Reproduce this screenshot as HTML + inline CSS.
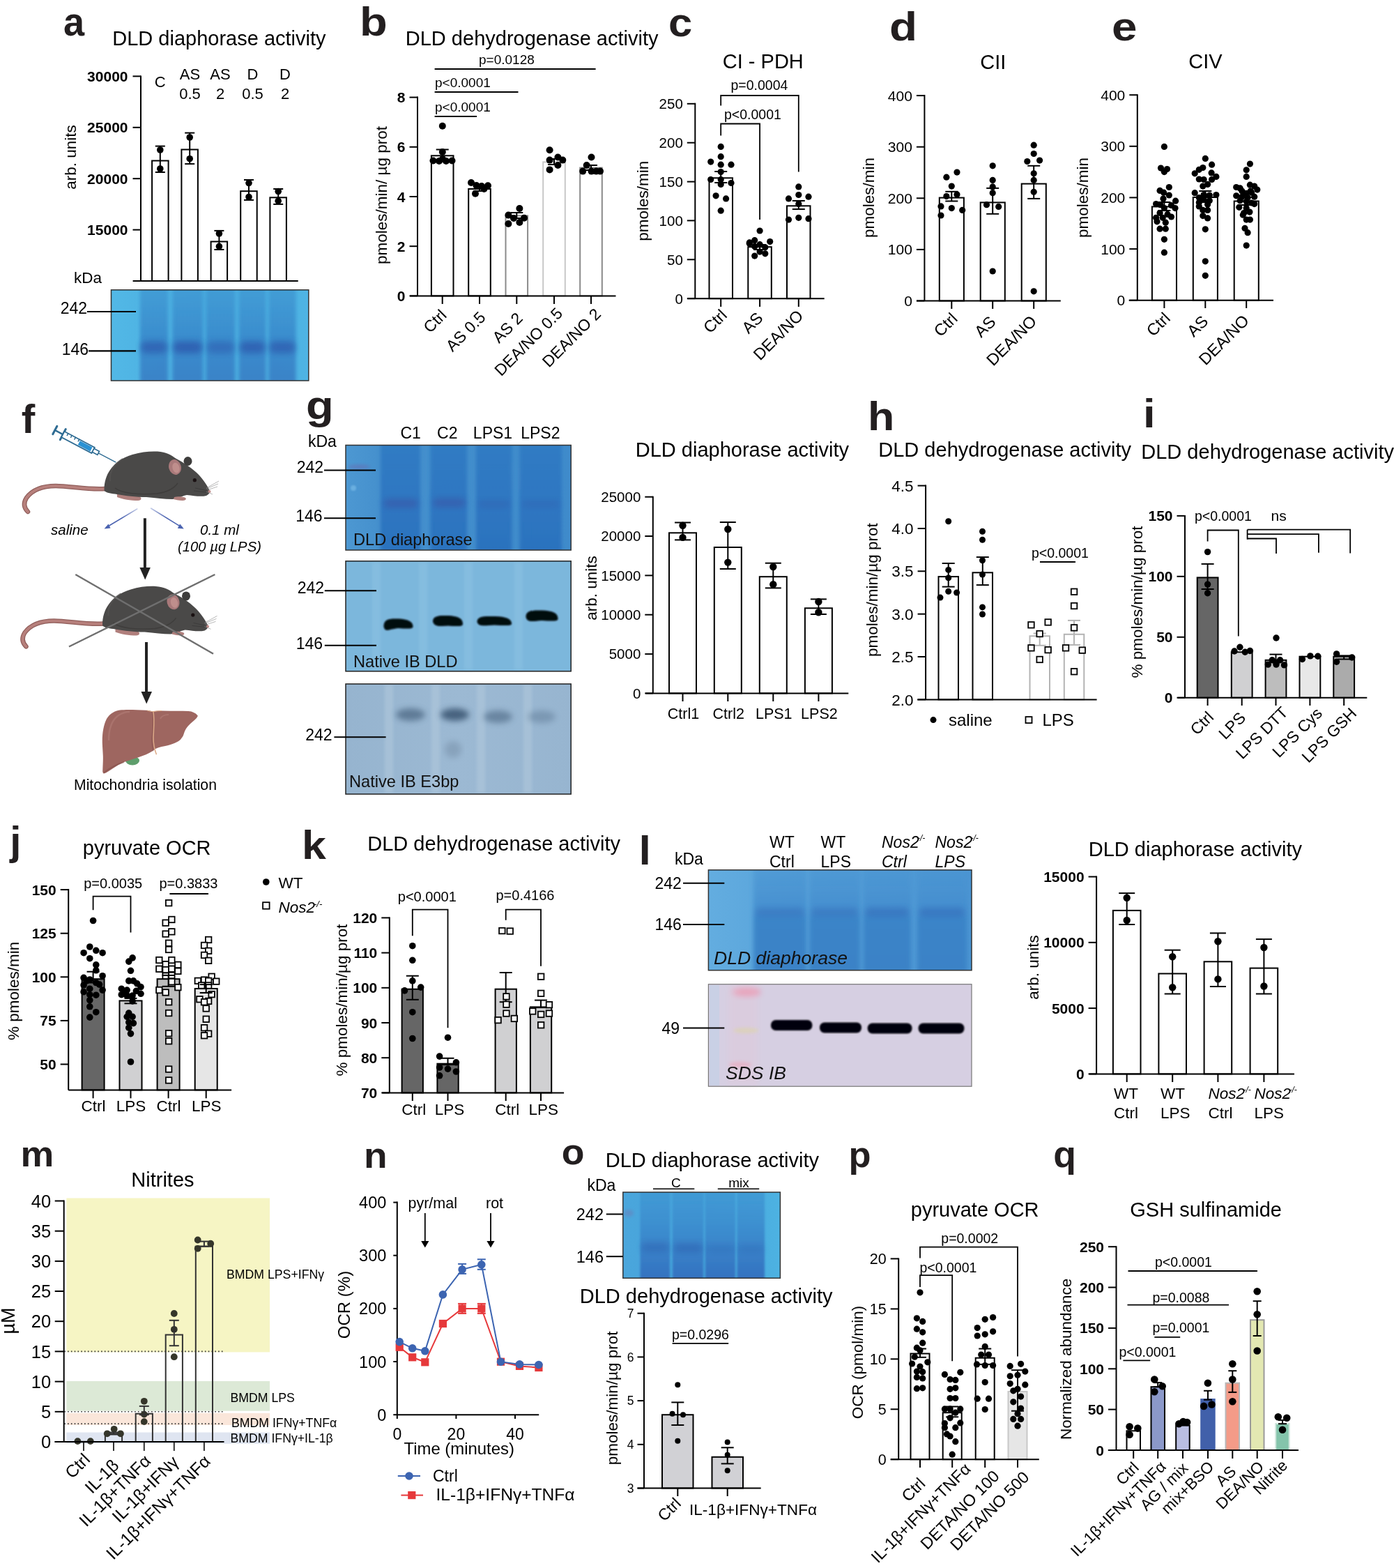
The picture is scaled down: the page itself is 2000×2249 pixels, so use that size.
<!DOCTYPE html>
<html><head><meta charset="utf-8"><title>Figure</title>
<style>
html,body{margin:0;padding:0;background:#fff;}
svg{display:block;}
text{font-family:"Liberation Sans", Arial, Helvetica, sans-serif;}
</style></head>
<body>
<svg width="2000" height="2249" viewBox="0 0 2000 2249">
<defs>
<filter id="b2" x="-20%" y="-50%" width="140%" height="200%"><feGaussianBlur stdDeviation="2"/></filter>
<filter id="b4" x="-20%" y="-50%" width="140%" height="200%"><feGaussianBlur stdDeviation="4"/></filter>
<filter id="b6" x="-30%" y="-80%" width="160%" height="260%"><feGaussianBlur stdDeviation="6"/></filter>
<filter id="b1"><feGaussianBlur stdDeviation="1"/></filter>
</defs>
<rect x="0" y="0" width="2000" height="2249" fill="#fff"/>
<text x="0" y="0" font-size="57" font-weight="bold" fill="#231f20" transform="translate(91.0 51.0) scale(0.95 1)">a</text>
<text x="161.3" y="64.6" font-size="29">DLD diaphorase activity</text>
<line x1="202.0" y1="108.4" x2="202.0" y2="403.0" stroke="#000" stroke-width="2" />
<line x1="190.5" y1="109.4" x2="202.0" y2="109.4" stroke="#000" stroke-width="2" />
<text x="183.5" y="116.9" font-size="21" text-anchor="end" font-weight="bold">30000</text>
<line x1="190.5" y1="182.8" x2="202.0" y2="182.8" stroke="#000" stroke-width="2" />
<text x="183.5" y="190.3" font-size="21" text-anchor="end" font-weight="bold">25000</text>
<line x1="190.5" y1="256.2" x2="202.0" y2="256.2" stroke="#000" stroke-width="2" />
<text x="183.5" y="263.7" font-size="21" text-anchor="end" font-weight="bold">20000</text>
<line x1="190.5" y1="329.6" x2="202.0" y2="329.6" stroke="#000" stroke-width="2" />
<text x="183.5" y="337.1" font-size="21" text-anchor="end" font-weight="bold">15000</text>
<text x="109.4" y="225.5" font-size="22.5" text-anchor="middle" transform="rotate(-90 109.4 225.5)">arb. units</text>
<rect x="218.1" y="230.5" width="23.5" height="172.5" fill="#fff" stroke="#000" stroke-width="2" />
<line x1="229.8" y1="209.6" x2="229.8" y2="247.0" stroke="#000" stroke-width="2" />
<line x1="222.8" y1="209.6" x2="236.8" y2="209.6" stroke="#000" stroke-width="2" />
<line x1="222.8" y1="247.0" x2="236.8" y2="247.0" stroke="#000" stroke-width="2" />
<circle cx="229.8" cy="215.0" r="4.8" fill="#000" />
<circle cx="229.8" cy="242.0" r="4.8" fill="#000" />
<rect x="260.4" y="214.5" width="23.5" height="188.5" fill="#fff" stroke="#000" stroke-width="2" />
<line x1="272.2" y1="190.6" x2="272.2" y2="235.1" stroke="#000" stroke-width="2" />
<line x1="265.2" y1="190.6" x2="279.2" y2="190.6" stroke="#000" stroke-width="2" />
<line x1="265.2" y1="235.1" x2="279.2" y2="235.1" stroke="#000" stroke-width="2" />
<circle cx="272.2" cy="197.0" r="4.8" fill="#000" />
<circle cx="272.2" cy="227.7" r="4.8" fill="#000" />
<rect x="302.6" y="346.5" width="23.5" height="56.5" fill="#fff" stroke="#000" stroke-width="2" />
<line x1="314.4" y1="330.9" x2="314.4" y2="358.0" stroke="#000" stroke-width="2" />
<line x1="307.4" y1="330.9" x2="321.4" y2="330.9" stroke="#000" stroke-width="2" />
<line x1="307.4" y1="358.0" x2="321.4" y2="358.0" stroke="#000" stroke-width="2" />
<circle cx="314.4" cy="335.0" r="4.8" fill="#000" />
<circle cx="314.4" cy="353.4" r="4.8" fill="#000" />
<rect x="345.2" y="274.2" width="23.5" height="128.8" fill="#fff" stroke="#000" stroke-width="2" />
<line x1="357.0" y1="258.0" x2="357.0" y2="286.9" stroke="#000" stroke-width="2" />
<line x1="350.0" y1="258.0" x2="364.0" y2="258.0" stroke="#000" stroke-width="2" />
<line x1="350.0" y1="286.9" x2="364.0" y2="286.9" stroke="#000" stroke-width="2" />
<circle cx="357.0" cy="262.6" r="4.8" fill="#000" />
<circle cx="357.0" cy="282.5" r="4.8" fill="#000" />
<rect x="387.4" y="283.3" width="23.5" height="119.7" fill="#fff" stroke="#000" stroke-width="2" />
<line x1="399.2" y1="271.0" x2="399.2" y2="292.9" stroke="#000" stroke-width="2" />
<line x1="392.2" y1="271.0" x2="406.2" y2="271.0" stroke="#000" stroke-width="2" />
<line x1="392.2" y1="292.9" x2="406.2" y2="292.9" stroke="#000" stroke-width="2" />
<circle cx="399.2" cy="274.5" r="4.8" fill="#000" />
<circle cx="399.2" cy="288.2" r="4.8" fill="#000" />
<text x="229.6" y="125.0" font-size="22" text-anchor="middle">C</text>
<text x="272.5" y="113.6" font-size="22" text-anchor="middle">AS</text>
<text x="272.5" y="141.6" font-size="22" text-anchor="middle">0.5</text>
<text x="316.0" y="113.6" font-size="22" text-anchor="middle">AS</text>
<text x="316.0" y="141.6" font-size="22" text-anchor="middle">2</text>
<text x="362.5" y="113.6" font-size="22" text-anchor="middle">D</text>
<text x="362.5" y="141.6" font-size="22" text-anchor="middle">0.5</text>
<text x="409.0" y="113.6" font-size="22" text-anchor="middle">D</text>
<text x="409.0" y="141.6" font-size="22" text-anchor="middle">2</text>
<text x="106.0" y="405.6" font-size="22.5">kDa</text>
<clipPath id="gelac"><rect x="159.5" y="415.8" width="283.3" height="130.2"/></clipPath>
<linearGradient id="gelal" x1="0" y1="0" x2="0" y2="1"><stop offset="0" stop-color="#3f9ad4" stop-opacity="0.85"/><stop offset="0.55" stop-color="#3a8acc" stop-opacity="0.95"/><stop offset="1" stop-color="#3a80c6" stop-opacity="0.95"/></linearGradient>
<filter id="gelaf" x="-10%" y="-10%" width="120%" height="120%"><feGaussianBlur stdDeviation="2.5"/></filter>
<g clip-path="url(#gelac)">
<linearGradient id="gelab" x1="0" y1="0" x2="1" y2="0"><stop offset="0" stop-color="#52b8e6"/><stop offset="0.5" stop-color="#47aade"/><stop offset="1" stop-color="#4fb4e4"/></linearGradient>
<rect x="159.5" y="415.8" width="283.3" height="130.2" fill="url(#gelab)"/>
<rect x="201" y="411.8" width="40" height="138.2" fill="url(#gelal)" filter="url(#gelaf)"/>
<rect x="247.5" y="411.8" width="43.5" height="138.2" fill="url(#gelal)" filter="url(#gelaf)"/>
<rect x="296" y="411.8" width="41" height="138.2" fill="url(#gelal)" filter="url(#gelaf)"/>
<rect x="343" y="411.8" width="38.5" height="138.2" fill="url(#gelal)" filter="url(#gelaf)"/>
<rect x="385.5" y="411.8" width="39.0" height="138.2" fill="url(#gelal)" filter="url(#gelaf)"/>
<rect x="202" y="489.5" width="38" height="17" rx="8" fill="#2d5eb0" opacity="0.8" filter="url(#b4)"/>
<rect x="248.5" y="489.5" width="41.5" height="17" rx="8" fill="#2d5eb0" opacity="0.9" filter="url(#b4)"/>
<rect x="297" y="489.5" width="39" height="17" rx="8" fill="#2d5eb0" opacity="0.6" filter="url(#b4)"/>
<rect x="344" y="489.5" width="36.5" height="17" rx="8" fill="#2d5eb0" opacity="0.85" filter="url(#b4)"/>
<rect x="386.5" y="489.5" width="37.0" height="17" rx="8" fill="#2d5eb0" opacity="0.8" filter="url(#b4)"/>
</g>
<rect x="159.5" y="415.8" width="283.3" height="130.2" fill="none" stroke="#333" stroke-width="1.5"/>
<text x="125.0" y="450.0" font-size="23" text-anchor="end">242</text>
<line x1="125.0" y1="447.0" x2="195.0" y2="447.0" stroke="#000" stroke-width="2.2" />
<text x="127.0" y="509.0" font-size="23" text-anchor="end">146</text>
<line x1="127.0" y1="503.3" x2="195.0" y2="503.3" stroke="#000" stroke-width="2.2" />
<text x="0" y="0" font-size="57" font-weight="bold" fill="#231f20" transform="translate(516.0 51.0) scale(1.14 1)">b</text>
<text x="581.8" y="64.6" font-size="29">DLD dehydrogenase activity</text>
<line x1="599.0" y1="138.6" x2="599.0" y2="424.4" stroke="#000" stroke-width="2" />
<line x1="587.5" y1="424.4" x2="599.0" y2="424.4" stroke="#000" stroke-width="2" />
<text x="581.5" y="431.9" font-size="21" text-anchor="end" font-weight="bold">0</text>
<line x1="587.5" y1="353.2" x2="599.0" y2="353.2" stroke="#000" stroke-width="2" />
<text x="581.5" y="360.7" font-size="21" text-anchor="end" font-weight="bold">2</text>
<line x1="587.5" y1="282.0" x2="599.0" y2="282.0" stroke="#000" stroke-width="2" />
<text x="581.5" y="289.5" font-size="21" text-anchor="end" font-weight="bold">4</text>
<line x1="587.5" y1="210.8" x2="599.0" y2="210.8" stroke="#000" stroke-width="2" />
<text x="581.5" y="218.3" font-size="21" text-anchor="end" font-weight="bold">6</text>
<line x1="587.5" y1="139.6" x2="599.0" y2="139.6" stroke="#000" stroke-width="2" />
<text x="581.5" y="147.1" font-size="21" text-anchor="end" font-weight="bold">8</text>
<text x="555.0" y="280.0" font-size="22.5" text-anchor="middle" transform="rotate(-90 555.0 280.0)">pmoles/min/ µg prot</text>
<rect x="618.9" y="223.3" width="31.6" height="201.1" fill="#fff" stroke="#000" stroke-width="2" />
<rect x="672.2" y="271.0" width="31.6" height="153.4" fill="#fff" stroke="#000" stroke-width="2" />
<rect x="725.5" y="309.4" width="31.6" height="115.0" fill="#fff" stroke="#8a8a8a" stroke-width="2" />
<rect x="779.2" y="232.4" width="31.6" height="192.0" fill="#fff" stroke="#c8c8c8" stroke-width="2" />
<rect x="832.2" y="240.6" width="31.6" height="183.8" fill="#fff" stroke="#8a8a8a" stroke-width="2" />
<line x1="634.7" y1="424.4" x2="634.7" y2="436.0" stroke="#000" stroke-width="2" />
<line x1="688.0" y1="424.4" x2="688.0" y2="436.0" stroke="#000" stroke-width="2" />
<line x1="741.3" y1="424.4" x2="741.3" y2="436.0" stroke="#000" stroke-width="2" />
<line x1="795.0" y1="424.4" x2="795.0" y2="436.0" stroke="#000" stroke-width="2" />
<line x1="848.0" y1="424.4" x2="848.0" y2="436.0" stroke="#000" stroke-width="2" />
<line x1="634.7" y1="214.5" x2="634.7" y2="232.0" stroke="#000" stroke-width="2" />
<line x1="625.7" y1="214.5" x2="643.7" y2="214.5" stroke="#000" stroke-width="2" />
<line x1="625.7" y1="232.0" x2="643.7" y2="232.0" stroke="#000" stroke-width="2" />
<line x1="688.0" y1="268.0" x2="688.0" y2="274.0" stroke="#000" stroke-width="2" />
<line x1="679.0" y1="268.0" x2="697.0" y2="268.0" stroke="#000" stroke-width="2" />
<line x1="679.0" y1="274.0" x2="697.0" y2="274.0" stroke="#000" stroke-width="2" />
<line x1="741.3" y1="305.0" x2="741.3" y2="313.0" stroke="#000" stroke-width="2" />
<line x1="732.3" y1="305.0" x2="750.3" y2="305.0" stroke="#000" stroke-width="2" />
<line x1="732.3" y1="313.0" x2="750.3" y2="313.0" stroke="#000" stroke-width="2" />
<line x1="795.0" y1="228.0" x2="795.0" y2="236.0" stroke="#000" stroke-width="2" />
<line x1="786.0" y1="228.0" x2="804.0" y2="228.0" stroke="#000" stroke-width="2" />
<line x1="786.0" y1="236.0" x2="804.0" y2="236.0" stroke="#000" stroke-width="2" />
<line x1="848.0" y1="237.0" x2="848.0" y2="244.0" stroke="#000" stroke-width="2" />
<line x1="839.0" y1="237.0" x2="857.0" y2="237.0" stroke="#000" stroke-width="2" />
<line x1="839.0" y1="244.0" x2="857.0" y2="244.0" stroke="#000" stroke-width="2" />
<circle cx="634.8" cy="180.7" r="5" fill="#000" />
<circle cx="634.8" cy="218.0" r="5" fill="#000" />
<circle cx="621.5" cy="230.5" r="5" fill="#000" />
<circle cx="630.0" cy="231.0" r="5" fill="#000" />
<circle cx="640.0" cy="231.0" r="5" fill="#000" />
<circle cx="648.5" cy="230.5" r="5" fill="#000" />
<circle cx="635.0" cy="228.0" r="5" fill="#000" />
<circle cx="676.0" cy="262.0" r="5" fill="#000" />
<circle cx="683.5" cy="266.0" r="5" fill="#000" />
<circle cx="691.0" cy="267.0" r="5" fill="#000" />
<circle cx="700.0" cy="266.2" r="5" fill="#000" />
<circle cx="682.0" cy="277.8" r="5" fill="#000" />
<circle cx="694.5" cy="271.0" r="5" fill="#000" />
<circle cx="729.4" cy="308.6" r="5" fill="#000" />
<circle cx="745.4" cy="299.0" r="5" fill="#000" />
<circle cx="752.0" cy="312.7" r="5" fill="#000" />
<circle cx="729.4" cy="321.0" r="5" fill="#000" />
<circle cx="745.4" cy="319.0" r="5" fill="#000" />
<circle cx="737.0" cy="313.0" r="5" fill="#000" />
<circle cx="788.6" cy="215.3" r="5" fill="#000" />
<circle cx="788.6" cy="229.6" r="5" fill="#000" />
<circle cx="800.4" cy="225.5" r="5" fill="#000" />
<circle cx="807.3" cy="229.6" r="5" fill="#000" />
<circle cx="788.6" cy="243.4" r="5" fill="#000" />
<circle cx="800.4" cy="237.0" r="5" fill="#000" />
<circle cx="848.5" cy="225.5" r="5" fill="#000" />
<circle cx="836.2" cy="245.6" r="5" fill="#000" />
<circle cx="841.7" cy="237.0" r="5" fill="#000" />
<circle cx="848.5" cy="245.6" r="5" fill="#000" />
<circle cx="855.4" cy="245.6" r="5" fill="#000" />
<circle cx="861.0" cy="245.6" r="5" fill="#000" />
<text x="687.0" y="92.0" font-size="19">p=0.0128</text>
<line x1="623.6" y1="99.0" x2="854.6" y2="99.0" stroke="#000" stroke-width="1.8" />
<text x="624.0" y="125.0" font-size="19">p&lt;0.0001</text>
<line x1="623.6" y1="132.0" x2="743.5" y2="132.0" stroke="#000" stroke-width="1.8" />
<text x="624.0" y="160.3" font-size="19">p&lt;0.0001</text>
<line x1="623.6" y1="167.0" x2="684.0" y2="167.0" stroke="#000" stroke-width="1.8" />
<text x="642.2" y="453.5" font-size="23" text-anchor="end" transform="rotate(-45 642.2 453.5)">Ctrl</text>
<text x="698.0" y="456.6" font-size="23" text-anchor="end" transform="rotate(-45 698.0 456.6)">AS 0.5</text>
<text x="751.3" y="458.0" font-size="23" text-anchor="end" transform="rotate(-45 751.3 458.0)">AS 2</text>
<text x="808.5" y="451.0" font-size="23" text-anchor="end" transform="rotate(-45 808.5 451.0)">DEA/NO 0.5</text>
<text x="863.5" y="452.0" font-size="23" text-anchor="end" transform="rotate(-45 863.5 452.0)">DEA/NO 2</text>
<text x="0" y="0" font-size="57" font-weight="bold" fill="#231f20" transform="translate(959.0 52.0) scale(1.08 1)">c</text>
<text x="1036.8" y="97.8" font-size="29">CI - PDH</text>
<line x1="997.3" y1="147.8" x2="997.3" y2="428.2" stroke="#000" stroke-width="2" />
<line x1="985.8" y1="428.2" x2="997.3" y2="428.2" stroke="#000" stroke-width="2" />
<text x="979.8" y="435.5" font-size="20.5" text-anchor="end">0</text>
<line x1="985.8" y1="372.3" x2="997.3" y2="372.3" stroke="#000" stroke-width="2" />
<text x="979.8" y="379.7" font-size="20.5" text-anchor="end">50</text>
<line x1="985.8" y1="316.4" x2="997.3" y2="316.4" stroke="#000" stroke-width="2" />
<text x="979.8" y="323.8" font-size="20.5" text-anchor="end">100</text>
<line x1="985.8" y1="260.6" x2="997.3" y2="260.6" stroke="#000" stroke-width="2" />
<text x="979.8" y="267.9" font-size="20.5" text-anchor="end">150</text>
<line x1="985.8" y1="204.7" x2="997.3" y2="204.7" stroke="#000" stroke-width="2" />
<text x="979.8" y="212.0" font-size="20.5" text-anchor="end">200</text>
<line x1="985.8" y1="148.8" x2="997.3" y2="148.8" stroke="#000" stroke-width="2" />
<text x="979.8" y="156.1" font-size="20.5" text-anchor="end">250</text>
<text x="930.0" y="288.3" font-size="22.5" text-anchor="middle" transform="rotate(-90 930.0 288.3)">pmoles/min</text>
<rect x="1017.5" y="255.3" width="33.5" height="172.9" fill="#fff" stroke="#000" stroke-width="2" />
<line x1="1034.2" y1="428.2" x2="1034.2" y2="440.0" stroke="#000" stroke-width="2" />
<rect x="1073.3" y="354.2" width="33.5" height="74.0" fill="#fff" stroke="#000" stroke-width="2" />
<line x1="1090.1" y1="428.2" x2="1090.1" y2="440.0" stroke="#000" stroke-width="2" />
<rect x="1129.0" y="295.3" width="33.5" height="132.9" fill="#fff" stroke="#000" stroke-width="2" />
<line x1="1145.8" y1="428.2" x2="1145.8" y2="440.0" stroke="#000" stroke-width="2" />
<line x1="1034.2" y1="246.0" x2="1034.2" y2="262.0" stroke="#000" stroke-width="2" />
<line x1="1025.2" y1="246.0" x2="1043.2" y2="246.0" stroke="#000" stroke-width="2" />
<line x1="1025.2" y1="262.0" x2="1043.2" y2="262.0" stroke="#000" stroke-width="2" />
<line x1="1090.1" y1="351.0" x2="1090.1" y2="358.0" stroke="#000" stroke-width="2" />
<line x1="1081.1" y1="351.0" x2="1099.1" y2="351.0" stroke="#000" stroke-width="2" />
<line x1="1081.1" y1="358.0" x2="1099.1" y2="358.0" stroke="#000" stroke-width="2" />
<line x1="1145.8" y1="288.0" x2="1145.8" y2="300.0" stroke="#000" stroke-width="2" />
<line x1="1136.8" y1="288.0" x2="1154.8" y2="288.0" stroke="#000" stroke-width="2" />
<line x1="1136.8" y1="300.0" x2="1154.8" y2="300.0" stroke="#000" stroke-width="2" />
<circle cx="1034.2" cy="210.4" r="4.6" fill="#000" />
<circle cx="1034.2" cy="224.7" r="4.6" fill="#000" />
<circle cx="1019.7" cy="232.1" r="4.6" fill="#000" />
<circle cx="1034.2" cy="236.2" r="4.6" fill="#000" />
<circle cx="1049.0" cy="236.2" r="4.6" fill="#000" />
<circle cx="1034.2" cy="246.6" r="4.6" fill="#000" />
<circle cx="1019.7" cy="257.5" r="4.6" fill="#000" />
<circle cx="1034.2" cy="257.5" r="4.6" fill="#000" />
<circle cx="1049.0" cy="262.5" r="4.6" fill="#000" />
<circle cx="1027.1" cy="280.8" r="4.6" fill="#000" />
<circle cx="1041.6" cy="284.9" r="4.6" fill="#000" />
<circle cx="1034.2" cy="302.2" r="4.6" fill="#000" />
<circle cx="1034.2" cy="264.4" r="4.6" fill="#000" />
<circle cx="1090.1" cy="331.0" r="4.6" fill="#000" />
<circle cx="1075.3" cy="347.9" r="4.6" fill="#000" />
<circle cx="1082.7" cy="344.7" r="4.6" fill="#000" />
<circle cx="1090.1" cy="350.7" r="4.6" fill="#000" />
<circle cx="1104.7" cy="346.6" r="4.6" fill="#000" />
<circle cx="1082.7" cy="353.4" r="4.6" fill="#000" />
<circle cx="1097.8" cy="354.8" r="4.6" fill="#000" />
<circle cx="1090.1" cy="361.1" r="4.6" fill="#000" />
<circle cx="1082.7" cy="367.1" r="4.6" fill="#000" />
<circle cx="1097.8" cy="363.8" r="4.6" fill="#000" />
<circle cx="1075.3" cy="349.3" r="4.6" fill="#000" />
<circle cx="1145.8" cy="267.9" r="4.6" fill="#000" />
<circle cx="1131.5" cy="284.9" r="4.6" fill="#000" />
<circle cx="1145.8" cy="279.5" r="4.6" fill="#000" />
<circle cx="1160.0" cy="282.2" r="4.6" fill="#000" />
<circle cx="1145.8" cy="292.6" r="4.6" fill="#000" />
<circle cx="1131.5" cy="315.1" r="4.6" fill="#000" />
<circle cx="1145.8" cy="312.3" r="4.6" fill="#000" />
<circle cx="1160.0" cy="313.7" r="4.6" fill="#000" />
<polyline points="1034.2,194.5 1034.2,177.5 1090.1,177.5 1090.1,315.0" stroke="#000" stroke-width="1.8" fill="none" />
<text x="1039.0" y="171.0" font-size="19.5">p&lt;0.0001</text>
<polyline points="1034.2,151.5 1034.2,137.0 1145.8,137.0 1145.8,246.6" stroke="#000" stroke-width="1.8" fill="none" />
<text x="1048.5" y="128.8" font-size="19.5">p=0.0004</text>
<text x="1044.5" y="453.5" font-size="23.4" text-anchor="end" transform="rotate(-45 1044.5 453.5)">Ctrl</text>
<text x="1096.1" y="457.7" font-size="23.4" text-anchor="end" transform="rotate(-45 1096.1 457.7)">AS</text>
<text x="1153.8" y="454.5" font-size="23.4" text-anchor="end" transform="rotate(-45 1153.8 454.5)">DEA/NO</text>
<text x="0" y="0" font-size="57" font-weight="bold" fill="#231f20" transform="translate(1276.0 57.5) scale(1.15 1)">d</text>
<text x="1406.3" y="98.6" font-size="29">CII</text>
<line x1="1326.4" y1="136.1" x2="1326.4" y2="431.5" stroke="#000" stroke-width="2" />
<line x1="1314.9" y1="431.5" x2="1326.4" y2="431.5" stroke="#000" stroke-width="2" />
<text x="1308.9" y="439.0" font-size="21" text-anchor="end">0</text>
<line x1="1314.9" y1="357.9" x2="1326.4" y2="357.9" stroke="#000" stroke-width="2" />
<text x="1308.9" y="365.4" font-size="21" text-anchor="end">100</text>
<line x1="1314.9" y1="284.3" x2="1326.4" y2="284.3" stroke="#000" stroke-width="2" />
<text x="1308.9" y="291.8" font-size="21" text-anchor="end">200</text>
<line x1="1314.9" y1="210.7" x2="1326.4" y2="210.7" stroke="#000" stroke-width="2" />
<text x="1308.9" y="218.2" font-size="21" text-anchor="end">300</text>
<line x1="1314.9" y1="137.1" x2="1326.4" y2="137.1" stroke="#000" stroke-width="2" />
<text x="1308.9" y="144.6" font-size="21" text-anchor="end">400</text>
<text x="1254.0" y="283.4" font-size="22.5" text-anchor="middle" transform="rotate(-90 1254.0 283.4)">pmoles/min</text>
<rect x="1347.8" y="283.6" width="35.1" height="147.9" fill="#fff" stroke="#000" stroke-width="2" />
<line x1="1365.3" y1="431.5" x2="1365.3" y2="443.0" stroke="#000" stroke-width="2" />
<rect x="1406.7" y="290.4" width="35.1" height="141.1" fill="#fff" stroke="#000" stroke-width="2" />
<line x1="1424.2" y1="431.5" x2="1424.2" y2="443.0" stroke="#000" stroke-width="2" />
<rect x="1465.7" y="263.6" width="35.1" height="167.9" fill="#fff" stroke="#000" stroke-width="2" />
<line x1="1483.2" y1="431.5" x2="1483.2" y2="443.0" stroke="#000" stroke-width="2" />
<line x1="1365.3" y1="274.8" x2="1365.3" y2="288.5" stroke="#000" stroke-width="2" />
<line x1="1356.3" y1="274.8" x2="1374.3" y2="274.8" stroke="#000" stroke-width="2" />
<line x1="1356.3" y1="288.5" x2="1374.3" y2="288.5" stroke="#000" stroke-width="2" />
<line x1="1424.2" y1="269.9" x2="1424.2" y2="306.8" stroke="#000" stroke-width="2" />
<line x1="1415.2" y1="269.9" x2="1433.2" y2="269.9" stroke="#000" stroke-width="2" />
<line x1="1415.2" y1="306.8" x2="1433.2" y2="306.8" stroke="#000" stroke-width="2" />
<line x1="1483.2" y1="237.8" x2="1483.2" y2="284.9" stroke="#000" stroke-width="2" />
<line x1="1474.2" y1="237.8" x2="1492.2" y2="237.8" stroke="#000" stroke-width="2" />
<line x1="1474.2" y1="284.9" x2="1492.2" y2="284.9" stroke="#000" stroke-width="2" />
<circle cx="1357.9" cy="254.2" r="4.6" fill="#000" />
<circle cx="1373.0" cy="247.1" r="4.6" fill="#000" />
<circle cx="1365.3" cy="267.1" r="4.6" fill="#000" />
<circle cx="1357.9" cy="281.6" r="4.6" fill="#000" />
<circle cx="1373.0" cy="278.9" r="4.6" fill="#000" />
<circle cx="1350.0" cy="295.9" r="4.6" fill="#000" />
<circle cx="1365.3" cy="298.6" r="4.6" fill="#000" />
<circle cx="1380.7" cy="301.4" r="4.6" fill="#000" />
<circle cx="1350.0" cy="309.0" r="4.6" fill="#000" />
<circle cx="1424.2" cy="237.8" r="4.6" fill="#000" />
<circle cx="1424.2" cy="258.4" r="4.6" fill="#000" />
<circle cx="1424.2" cy="267.9" r="4.6" fill="#000" />
<circle cx="1424.2" cy="276.7" r="4.6" fill="#000" />
<circle cx="1415.5" cy="293.7" r="4.6" fill="#000" />
<circle cx="1432.7" cy="296.4" r="4.6" fill="#000" />
<circle cx="1424.2" cy="389.0" r="4.6" fill="#000" />
<circle cx="1483.2" cy="208.2" r="4.6" fill="#000" />
<circle cx="1483.2" cy="220.5" r="4.6" fill="#000" />
<circle cx="1473.8" cy="231.5" r="4.6" fill="#000" />
<circle cx="1491.6" cy="230.1" r="4.6" fill="#000" />
<circle cx="1483.2" cy="248.8" r="4.6" fill="#000" />
<circle cx="1483.2" cy="258.4" r="4.6" fill="#000" />
<circle cx="1483.2" cy="275.3" r="4.6" fill="#000" />
<circle cx="1483.2" cy="417.8" r="4.6" fill="#000" />
<text x="1375.3" y="458.5" font-size="23.5" text-anchor="end" transform="rotate(-45 1375.3 458.5)">Ctrl</text>
<text x="1430.0" y="463.2" font-size="23.5" text-anchor="end" transform="rotate(-45 1430.0 463.2)">AS</text>
<text x="1488.8" y="462.3" font-size="23.5" text-anchor="end" transform="rotate(-45 1488.8 462.3)">DEA/NO</text>
<text x="0" y="0" font-size="57" font-weight="bold" fill="#231f20" transform="translate(1595.0 58.0) scale(1.15 1)">e</text>
<text x="1705.3" y="97.8" font-size="29">CIV</text>
<line x1="1631.8" y1="135.2" x2="1631.8" y2="430.7" stroke="#000" stroke-width="2" />
<line x1="1620.3" y1="430.7" x2="1631.8" y2="430.7" stroke="#000" stroke-width="2" />
<text x="1614.3" y="438.2" font-size="21" text-anchor="end">0</text>
<line x1="1620.3" y1="357.1" x2="1631.8" y2="357.1" stroke="#000" stroke-width="2" />
<text x="1614.3" y="364.6" font-size="21" text-anchor="end">100</text>
<line x1="1620.3" y1="283.4" x2="1631.8" y2="283.4" stroke="#000" stroke-width="2" />
<text x="1614.3" y="291.0" font-size="21" text-anchor="end">200</text>
<line x1="1620.3" y1="209.8" x2="1631.8" y2="209.8" stroke="#000" stroke-width="2" />
<text x="1614.3" y="217.3" font-size="21" text-anchor="end">300</text>
<line x1="1620.3" y1="136.2" x2="1631.8" y2="136.2" stroke="#000" stroke-width="2" />
<text x="1614.3" y="143.7" font-size="21" text-anchor="end">400</text>
<text x="1561.0" y="283.4" font-size="22.5" text-anchor="middle" transform="rotate(-90 1561.0 283.4)">pmoles/min</text>
<rect x="1652.9" y="296.4" width="35.1" height="134.3" fill="#fff" stroke="#000" stroke-width="2" />
<line x1="1670.4" y1="430.7" x2="1670.4" y2="442.0" stroke="#000" stroke-width="2" />
<rect x="1711.8" y="283.0" width="35.1" height="147.7" fill="#fff" stroke="#000" stroke-width="2" />
<line x1="1729.3" y1="430.7" x2="1729.3" y2="442.0" stroke="#000" stroke-width="2" />
<rect x="1770.7" y="288.5" width="35.1" height="142.2" fill="#fff" stroke="#000" stroke-width="2" />
<line x1="1788.2" y1="430.7" x2="1788.2" y2="442.0" stroke="#000" stroke-width="2" />
<circle cx="1670.4" cy="210.4" r="4.6" fill="#000" />
<circle cx="1665.5" cy="241.1" r="4.6" fill="#000" />
<circle cx="1674.5" cy="242.5" r="4.6" fill="#000" />
<circle cx="1670.4" cy="246.6" r="4.6" fill="#000" />
<circle cx="1677.3" cy="268.5" r="4.6" fill="#000" />
<circle cx="1664.1" cy="273.4" r="4.6" fill="#000" />
<circle cx="1669.6" cy="276.2" r="4.6" fill="#000" />
<circle cx="1677.3" cy="280.0" r="4.6" fill="#000" />
<circle cx="1669.0" cy="284.9" r="4.6" fill="#000" />
<circle cx="1658.6" cy="292.6" r="4.6" fill="#000" />
<circle cx="1686.6" cy="288.2" r="4.6" fill="#000" />
<circle cx="1664.9" cy="293.7" r="4.6" fill="#000" />
<circle cx="1680.5" cy="294.5" r="4.6" fill="#000" />
<circle cx="1670.4" cy="298.6" r="4.6" fill="#000" />
<circle cx="1686.0" cy="298.6" r="4.6" fill="#000" />
<circle cx="1664.1" cy="305.5" r="4.6" fill="#000" />
<circle cx="1675.1" cy="307.4" r="4.6" fill="#000" />
<circle cx="1658.6" cy="312.3" r="4.6" fill="#000" />
<circle cx="1680.5" cy="311.0" r="4.6" fill="#000" />
<circle cx="1660.0" cy="317.8" r="4.6" fill="#000" />
<circle cx="1672.3" cy="319.2" r="4.6" fill="#000" />
<circle cx="1664.1" cy="328.2" r="4.6" fill="#000" />
<circle cx="1672.3" cy="328.2" r="4.6" fill="#000" />
<circle cx="1670.4" cy="343.3" r="4.6" fill="#000" />
<circle cx="1670.4" cy="362.2" r="4.6" fill="#000" />
<circle cx="1668.2" cy="312.3" r="4.6" fill="#000" />
<circle cx="1729.3" cy="227.4" r="4.6" fill="#000" />
<circle cx="1738.6" cy="236.2" r="4.6" fill="#000" />
<circle cx="1725.8" cy="240.5" r="4.6" fill="#000" />
<circle cx="1720.3" cy="243.3" r="4.6" fill="#000" />
<circle cx="1714.2" cy="248.8" r="4.6" fill="#000" />
<circle cx="1738.1" cy="247.9" r="4.6" fill="#000" />
<circle cx="1720.3" cy="257.0" r="4.6" fill="#000" />
<circle cx="1727.1" cy="257.5" r="4.6" fill="#000" />
<circle cx="1744.9" cy="253.4" r="4.6" fill="#000" />
<circle cx="1738.6" cy="257.5" r="4.6" fill="#000" />
<circle cx="1732.6" cy="264.4" r="4.6" fill="#000" />
<circle cx="1725.8" cy="267.1" r="4.6" fill="#000" />
<circle cx="1714.2" cy="276.7" r="4.6" fill="#000" />
<circle cx="1727.1" cy="279.5" r="4.6" fill="#000" />
<circle cx="1735.3" cy="280.0" r="4.6" fill="#000" />
<circle cx="1744.9" cy="279.5" r="4.6" fill="#000" />
<circle cx="1720.3" cy="283.6" r="4.6" fill="#000" />
<circle cx="1727.1" cy="286.3" r="4.6" fill="#000" />
<circle cx="1735.3" cy="287.7" r="4.6" fill="#000" />
<circle cx="1720.3" cy="295.9" r="4.6" fill="#000" />
<circle cx="1732.6" cy="293.2" r="4.6" fill="#000" />
<circle cx="1725.8" cy="301.4" r="4.6" fill="#000" />
<circle cx="1732.6" cy="301.4" r="4.6" fill="#000" />
<circle cx="1725.8" cy="309.6" r="4.6" fill="#000" />
<circle cx="1732.6" cy="312.9" r="4.6" fill="#000" />
<circle cx="1729.3" cy="328.8" r="4.6" fill="#000" />
<circle cx="1729.3" cy="374.8" r="4.6" fill="#000" />
<circle cx="1729.3" cy="395.3" r="4.6" fill="#000" />
<circle cx="1720.3" cy="290.4" r="4.6" fill="#000" />
<circle cx="1793.4" cy="235.1" r="4.6" fill="#000" />
<circle cx="1788.2" cy="243.8" r="4.6" fill="#000" />
<circle cx="1788.2" cy="253.4" r="4.6" fill="#000" />
<circle cx="1773.7" cy="268.5" r="4.6" fill="#000" />
<circle cx="1779.2" cy="269.9" r="4.6" fill="#000" />
<circle cx="1793.4" cy="265.2" r="4.6" fill="#000" />
<circle cx="1799.7" cy="267.1" r="4.6" fill="#000" />
<circle cx="1803.8" cy="272.1" r="4.6" fill="#000" />
<circle cx="1781.9" cy="274.0" r="4.6" fill="#000" />
<circle cx="1788.2" cy="277.3" r="4.6" fill="#000" />
<circle cx="1795.6" cy="276.2" r="4.6" fill="#000" />
<circle cx="1773.7" cy="280.8" r="4.6" fill="#000" />
<circle cx="1781.9" cy="282.2" r="4.6" fill="#000" />
<circle cx="1790.1" cy="283.6" r="4.6" fill="#000" />
<circle cx="1799.7" cy="282.2" r="4.6" fill="#000" />
<circle cx="1779.2" cy="287.7" r="4.6" fill="#000" />
<circle cx="1788.2" cy="289.0" r="4.6" fill="#000" />
<circle cx="1795.6" cy="291.0" r="4.6" fill="#000" />
<circle cx="1799.7" cy="292.6" r="4.6" fill="#000" />
<circle cx="1777.8" cy="297.3" r="4.6" fill="#000" />
<circle cx="1788.2" cy="298.6" r="4.6" fill="#000" />
<circle cx="1784.7" cy="305.5" r="4.6" fill="#000" />
<circle cx="1792.9" cy="304.1" r="4.6" fill="#000" />
<circle cx="1783.3" cy="308.2" r="4.6" fill="#000" />
<circle cx="1788.2" cy="315.1" r="4.6" fill="#000" />
<circle cx="1793.4" cy="315.1" r="4.6" fill="#000" />
<circle cx="1786.0" cy="327.4" r="4.6" fill="#000" />
<circle cx="1790.1" cy="333.7" r="4.6" fill="#000" />
<circle cx="1788.2" cy="352.1" r="4.6" fill="#000" />
<circle cx="1794.2" cy="274.0" r="4.6" fill="#000" />
<line x1="1670.4" y1="290.0" x2="1670.4" y2="302.0" stroke="#000" stroke-width="2" />
<line x1="1661.4" y1="290.0" x2="1679.4" y2="290.0" stroke="#000" stroke-width="2" />
<line x1="1661.4" y1="302.0" x2="1679.4" y2="302.0" stroke="#000" stroke-width="2" />
<line x1="1729.3" y1="274.0" x2="1729.3" y2="290.0" stroke="#000" stroke-width="2" />
<line x1="1720.3" y1="274.0" x2="1738.3" y2="274.0" stroke="#000" stroke-width="2" />
<line x1="1720.3" y1="290.0" x2="1738.3" y2="290.0" stroke="#000" stroke-width="2" />
<line x1="1788.2" y1="283.0" x2="1788.2" y2="294.0" stroke="#000" stroke-width="2" />
<line x1="1779.2" y1="283.0" x2="1797.2" y2="283.0" stroke="#000" stroke-width="2" />
<line x1="1779.2" y1="294.0" x2="1797.2" y2="294.0" stroke="#000" stroke-width="2" />
<text x="1680.4" y="458.0" font-size="23.5" text-anchor="end" transform="rotate(-45 1680.4 458.0)">Ctrl</text>
<text x="1734.9" y="462.4" font-size="23.5" text-anchor="end" transform="rotate(-45 1734.9 462.4)">AS</text>
<text x="1793.4" y="461.4" font-size="23.5" text-anchor="end" transform="rotate(-45 1793.4 461.4)">DEA/NO</text>
<text x="0" y="0" font-size="57" font-weight="bold" fill="#231f20" transform="translate(30.7 620.6) scale(1.03 1)">f</text>
<g transform="translate(0 0)">
<path d="M151,701 C128,703 100,697 80,697 C60,697 46,703 38,714 C33,722 35,729 40,734" fill="none" stroke="#8f5d5a" stroke-width="6.5" stroke-linecap="round"/>
<path d="M151,701 C128,703 100,697 80,697 C60,697 46,703 38,714 C33,722 35,729 40,734" fill="none" stroke="#b7807c" stroke-width="4" stroke-linecap="round"/>
<path d="M168,707 C175,705 190,708 200,712 C204,714 203,718 198,718 C188,718 175,716 168,713 Z" fill="#b07f7c"/>
<path d="M149.6,704 C149,694 152,682 158,674 C165,664 176,656 190,652 C203,648 215,647 226,647.5 C238,648 246,653 253,658 C262,663 272,669 281,677 C289,684 296,694 300,702 C302,706 300,709 296,711 C288,713 278,711 268,710 C262,711 256,715 247,716 C236,716 224,714 210,713 C195,713 180,711 168,709 C160,708 153,707 149.6,704 Z" fill="#4a4948"/>
<path d="M165,700 C175,708 200,710 225,708 C240,706 250,700 255,693" fill="none" stroke="#3c3b3a" stroke-width="1.5" opacity="0.8"/>
<path d="M158,690 C157,676 164,665 176,658" fill="none" stroke="#555453" stroke-width="2" opacity="0.7"/>
<path d="M250,713 C255,712 262,712 266,714 C268,716 266,718 262,718 C257,718 252,717 249,716 Z" fill="#b07f7c"/>
<ellipse cx="269.5" cy="661.5" rx="6" ry="6.5" fill="#3e3d3c"/>
<ellipse cx="251" cy="670" rx="8.8" ry="11" transform="rotate(-15 251 670)" fill="#a9797a"/>
<ellipse cx="252.5" cy="671" rx="5" ry="7.5" transform="rotate(-15 252.5 671)" fill="#bf8e8c"/>
<circle cx="279.3" cy="688.7" r="2.6" fill="#1a1112"/>
<circle cx="300.5" cy="705" r="2" fill="#c08a88"/>
<path d="M296,700 L314,690 M296,701 L313,694 M297,703 L312,698 M296,705 L305,709" stroke="#888" stroke-width="0.6" fill="none"/>
<path d="M280,700 L298,704 M278,704 L296,706" stroke="#333" stroke-width="0.6" fill="none"/>
</g>
<g transform="translate(-2.5 193.4)">
<path d="M151,701 C128,703 100,697 80,697 C60,697 46,703 38,714 C33,722 35,729 40,734" fill="none" stroke="#8f5d5a" stroke-width="6.5" stroke-linecap="round"/>
<path d="M151,701 C128,703 100,697 80,697 C60,697 46,703 38,714 C33,722 35,729 40,734" fill="none" stroke="#b7807c" stroke-width="4" stroke-linecap="round"/>
<path d="M168,707 C175,705 190,708 200,712 C204,714 203,718 198,718 C188,718 175,716 168,713 Z" fill="#b07f7c"/>
<path d="M149.6,704 C149,694 152,682 158,674 C165,664 176,656 190,652 C203,648 215,647 226,647.5 C238,648 246,653 253,658 C262,663 272,669 281,677 C289,684 296,694 300,702 C302,706 300,709 296,711 C288,713 278,711 268,710 C262,711 256,715 247,716 C236,716 224,714 210,713 C195,713 180,711 168,709 C160,708 153,707 149.6,704 Z" fill="#4a4948"/>
<path d="M165,700 C175,708 200,710 225,708 C240,706 250,700 255,693" fill="none" stroke="#3c3b3a" stroke-width="1.5" opacity="0.8"/>
<path d="M158,690 C157,676 164,665 176,658" fill="none" stroke="#555453" stroke-width="2" opacity="0.7"/>
<path d="M250,713 C255,712 262,712 266,714 C268,716 266,718 262,718 C257,718 252,717 249,716 Z" fill="#b07f7c"/>
<ellipse cx="269.5" cy="661.5" rx="6" ry="6.5" fill="#3e3d3c"/>
<ellipse cx="251" cy="670" rx="8.8" ry="11" transform="rotate(-15 251 670)" fill="#a9797a"/>
<ellipse cx="252.5" cy="671" rx="5" ry="7.5" transform="rotate(-15 252.5 671)" fill="#bf8e8c"/>
<circle cx="279.3" cy="688.7" r="2.6" fill="#1a1112"/>
<circle cx="300.5" cy="705" r="2" fill="#c08a88"/>
<path d="M296,700 L314,690 M296,701 L313,694 M297,703 L312,698 M296,705 L305,709" stroke="#888" stroke-width="0.6" fill="none"/>
<path d="M280,700 L298,704 M278,704 L296,706" stroke="#333" stroke-width="0.6" fill="none"/>
</g>
<g transform="translate(78.8 617) rotate(27.8)" stroke="#2f6c93" fill="none" stroke-linecap="round">
<line x1="0" y1="-6.5" x2="0" y2="6.5" stroke-width="3"/>
<line x1="0" y1="0" x2="13" y2="0" stroke-width="2.5"/>
<line x1="13" y1="-8.5" x2="13" y2="8.5" stroke-width="3"/>
<rect x="13" y="-4.7" width="49" height="9.4" stroke-width="1.8" fill="#fff"/>
<line x1="19" y1="-4.7" x2="19" y2="-1.5" stroke-width="1.5"/>
<line x1="25" y1="-4.7" x2="25" y2="-1.5" stroke-width="1.5"/>
<line x1="31" y1="-4.7" x2="31" y2="-1.5" stroke-width="1.5"/>
<line x1="37" y1="-4.7" x2="37" y2="-1.5" stroke-width="1.5"/>
<rect x="39" y="-3.3" width="20" height="6.6" fill="#2a92d4" stroke="none"/>
<rect x="62" y="-2.8" width="8.5" height="5.6" stroke-width="1.6" fill="#fff"/>
<line x1="70.5" y1="0" x2="98.5" y2="0" stroke-width="1.3"/>
</g>
<linearGradient id="fa1" x1="1" y1="0" x2="0" y2="1"><stop offset="0" stop-color="#c5cde8"/><stop offset="0.5" stop-color="#4a62b0"/></linearGradient>
<linearGradient id="fa2" x1="0" y1="0" x2="1" y2="1"><stop offset="0" stop-color="#c5cde8"/><stop offset="0.5" stop-color="#4a62b0"/></linearGradient>
<path d="M197.3,729.6 L152,756.8" stroke="url(#fa1)" stroke-width="1.6" fill="none"/>
<polygon points="149.6,758.6 155.5,751.5 158.5,757.5" fill="#4a62b0"/>
<path d="M216.1,728.7 L261,756.5" stroke="url(#fa2)" stroke-width="1.6" fill="none"/>
<polygon points="263.8,758.6 254.8,757.8 258.2,751.5" fill="#4a62b0"/>
<text x="73.0" y="767.3" font-size="20.5" font-style="italic">saline</text>
<text x="287.0" y="767.0" font-size="20.5" font-style="italic">0.1 ml</text>
<text x="255.0" y="791.0" font-size="20.3" font-style="italic">(100 µg LPS)</text>
<line x1="207.9" y1="743.3" x2="207.9" y2="816.0" stroke="#222" stroke-width="4" />
<polygon points="200.4,814 215.9,814 208.2,831.4" fill="#222"/>
<line x1="210.0" y1="921.0" x2="210.0" y2="994.0" stroke="#222" stroke-width="4" />
<polygon points="202.5,992 218,992 210.2,1009.4" fill="#222"/>
<line x1="108.3" y1="824.0" x2="306.0" y2="937.7" stroke="#6f6f6f" stroke-width="2.4" />
<line x1="99.0" y1="927.5" x2="308.4" y2="824.0" stroke="#6f6f6f" stroke-width="2.4" />
<ellipse cx="190" cy="1091" rx="10" ry="6.5" fill="#5e9e6c"/>
<path d="M146.8,1065.5 C146.5,1052 148.5,1040 153,1031 C158,1023 165,1019.5 172,1018.5 C180,1017.5 195,1018 209.5,1018.7 C214,1019 217,1020 219.8,1020.6 C224,1020 228,1019.5 233,1019.6 C245,1019.8 258,1019.8 270.3,1020.1 C276,1020.5 280.5,1022.5 283.9,1026.7 C282,1031 278,1033.5 275.9,1035.5 C271,1040 268,1043 266.6,1045.8 C264,1050 264,1053 262.8,1055.2 C260,1060 258,1062 255.3,1063.6 C250,1066.5 245,1068 240.4,1069.2 C234,1070.5 229,1071.5 225.4,1073 C222,1074.5 221,1075.5 219.8,1076.7 C216,1079 213,1080.5 209.5,1082.3 C202,1085 195,1087.5 188,1089.8 C183,1091.5 179,1092.5 174.9,1094.5 C168,1098 163,1101.5 158,1104.8 C154,1107.5 151,1109.5 148.7,1109.4 C147,1108 147.2,1106 147.3,1104.8 C147.5,1097 148,1091 147.8,1084.2 C147.5,1077 147,1071 146.8,1065.5 Z" fill="#9e6660"/>
<path d="M156,1062 C156,1045 160,1033 170,1026 C176,1022 182,1021 186,1021" stroke="#ad7770" stroke-width="2.5" fill="none" opacity="0.8"/>
<path d="M230,1031 C232,1027 237,1025 242,1025" stroke="#ad7770" stroke-width="2" fill="none" opacity="0.8"/>
<path d="M218.5,1021 C221,1030 219.5,1045 218,1060 C218,1066 218.5,1071 219.8,1076.5" stroke="#8c5651" stroke-width="1.6" fill="none" opacity="0.7"/>
<path d="M149,1108 C156,1103 165,1097 178,1093" stroke="#7f4a45" stroke-width="2" fill="none" opacity="0.5"/>
<path d="M219.8,1020.6 C222,1030 220.5,1045 220,1058 C220,1068 222,1076 224.5,1082.3" stroke="#dcaa88" stroke-width="1.5" fill="none"/>
<path d="M211,1019 C215,1020 217,1020.5 219.8,1020.6 C223,1020 226,1019.5 232,1019.5" stroke="#dcaa88" stroke-width="1.2" fill="none"/>
<text x="106.0" y="1133.0" font-size="21.2">Mitochondria isolation</text>
<text x="0" y="0" font-size="57" font-weight="bold" fill="#231f20" transform="translate(439.0 601.3) scale(1.14 1)">g</text>
<text x="442.0" y="640.8" font-size="23">kDa</text>
<text x="589.2" y="629.3" font-size="23" text-anchor="middle">C1</text>
<text x="641.8" y="629.3" font-size="23" text-anchor="middle">C2</text>
<text x="707.0" y="629.3" font-size="23" text-anchor="middle">LPS1</text>
<text x="775.3" y="629.3" font-size="23" text-anchor="middle">LPS2</text>
<clipPath id="gelg1c"><rect x="496" y="638.5" width="323.2" height="150.5"/></clipPath>
<linearGradient id="gelg1l" x1="0" y1="0" x2="0" y2="1"><stop offset="0" stop-color="#2f7bc3" stop-opacity="0.95"/><stop offset="0.6" stop-color="#2d76c1" stop-opacity="1"/><stop offset="1" stop-color="#2c72be" stop-opacity="1"/></linearGradient>
<filter id="gelg1f" x="-10%" y="-10%" width="120%" height="120%"><feGaussianBlur stdDeviation="2.5"/></filter>
<g clip-path="url(#gelg1c)">
<linearGradient id="gelg1b" x1="0" y1="0" x2="1" y2="0"><stop offset="0" stop-color="#4d98d2"/><stop offset="0.15" stop-color="#4590cd"/><stop offset="1" stop-color="#3f8bcb"/></linearGradient>
<rect x="496" y="638.5" width="323.2" height="150.5" fill="url(#gelg1b)"/>
<rect x="546" y="634.5" width="57" height="158.5" fill="url(#gelg1l)" filter="url(#gelg1f)"/>
<rect x="617.5" y="634.5" width="52.5" height="158.5" fill="url(#gelg1l)" filter="url(#gelg1f)"/>
<rect x="683" y="634.5" width="51.5" height="158.5" fill="url(#gelg1l)" filter="url(#gelg1f)"/>
<rect x="745.5" y="634.5" width="60.5" height="158.5" fill="url(#gelg1l)" filter="url(#gelg1f)"/>
<rect x="550" y="715.0" width="50" height="14" rx="7.0" fill="#3a55a6" opacity="0.55" filter="url(#b4)"/>
<rect x="621" y="714.0" width="47" height="14" rx="7.0" fill="#3a55a6" opacity="0.55" filter="url(#b4)"/>
<rect x="686" y="717.0" width="46" height="12" rx="6.0" fill="#3558a8" opacity="0.3" filter="url(#b4)"/>
<rect x="749" y="717.0" width="54" height="12" rx="6.0" fill="#3558a8" opacity="0.25" filter="url(#b4)"/>
</g>
<rect x="496" y="638.5" width="323.2" height="150.5" fill="none" stroke="#333" stroke-width="1.5"/>
<ellipse cx="515" cy="669.5" rx="16" ry="3" fill="#7060a8" opacity="0.45" filter="url(#b2)"/>
<circle cx="507" cy="700" r="4" fill="#7fc0ea" opacity="0.6" filter="url(#b1)"/>
<text x="507.0" y="782.3" font-size="23.6" fill="#111">DLD diaphorase</text>
<text x="464.0" y="677.5" font-size="23" text-anchor="end">242</text>
<line x1="465.0" y1="674.6" x2="539.0" y2="674.6" stroke="#000" stroke-width="2" />
<text x="462.5" y="748.0" font-size="23" text-anchor="end">146</text>
<line x1="465.0" y1="743.3" x2="539.0" y2="743.3" stroke="#000" stroke-width="2" />
<rect x="496.0" y="804.8" width="323.2" height="158.0" fill="#7cb7dc"  />
<rect x="534" y="806" width="12" height="155" fill="#8ec3e3" opacity="0.5" filter="url(#b2)"/>
<rect x="601" y="806" width="12" height="155" fill="#8ec3e3" opacity="0.5" filter="url(#b2)"/>
<rect x="666" y="806" width="12" height="155" fill="#8ec3e3" opacity="0.5" filter="url(#b2)"/>
<rect x="738" y="806" width="12" height="155" fill="#8ec3e3" opacity="0.5" filter="url(#b2)"/>
<path d="M550.5,898.5 C550.5,888.0 558.5,887.0 571.5,887.5 C584.5,888.0 592.5,891.0 592.5,898.75 C592.5,902.0 586.5,902.0 571.5,901.0 C558.5,902.0 552.5,908.0 550.5,898.5 Z" fill="#060709" filter="url(#b1)"/>
<path d="M621,891.5 C621,883.5 629,882.5 642.5,883.0 C656,883.5 664,886.5 664,895.0 C664,898.5 658,898.5 642.5,897.5 C629,898.5 623,898.5 621,891.5 Z" fill="#060709" filter="url(#b1)"/>
<path d="M684.5,892.0 C684.5,884.5 692.5,883.5 709.25,884.0 C726,884.5 734,887.5 734,894.5 C734,897.5 728,897.5 709.25,896.5 C692.5,897.5 686.5,898.5 684.5,892.0 Z" fill="#060709" filter="url(#b1)"/>
<path d="M754.5,885.0 C754.5,876.0 762.5,875.0 777.5,875.5 C792.5,876.0 800.5,879.0 800.5,887.5 C800.5,891.0 794.5,891.0 777.5,890.0 C762.5,891.0 756.5,893.0 754.5,885.0 Z" fill="#060709" filter="url(#b1)"/>
<rect x="496.0" y="804.8" width="323.2" height="158.0" fill="none" stroke="#222" stroke-width="1.5" />
<text x="507.0" y="957.0" font-size="23.6" fill="#111">Native IB DLD</text>
<text x="465.0" y="851.0" font-size="23" text-anchor="end">242</text>
<line x1="465.8" y1="847.3" x2="540.0" y2="847.3" stroke="#000" stroke-width="2" />
<text x="463.0" y="931.0" font-size="23" text-anchor="end">146</text>
<line x1="465.8" y1="925.8" x2="540.0" y2="925.8" stroke="#000" stroke-width="2" />
<linearGradient id="gg3" x1="0" y1="0" x2="1" y2="0"><stop offset="0" stop-color="#96b4cf"/><stop offset="0.5" stop-color="#9cb9d3"/><stop offset="1" stop-color="#97b5d0"/></linearGradient>
<rect x="496.0" y="981.0" width="323.2" height="158.0" fill="url(#gg3)"  />
<rect x="552" y="982" width="12" height="155" fill="#b0c8dc" opacity="0.6" filter="url(#b2)"/>
<rect x="619" y="982" width="12" height="155" fill="#b0c8dc" opacity="0.6" filter="url(#b2)"/>
<rect x="684" y="982" width="12" height="155" fill="#b0c8dc" opacity="0.6" filter="url(#b2)"/>
<rect x="751" y="982" width="12" height="155" fill="#b0c8dc" opacity="0.6" filter="url(#b2)"/>
<ellipse cx="589.0" cy="1025" rx="21.0" ry="9" fill="#38536f" opacity="0.6" filter="url(#b4)"/>
<ellipse cx="652.5" cy="1025" rx="20.5" ry="9" fill="#38536f" opacity="0.85" filter="url(#b4)"/>
<ellipse cx="714.5" cy="1028" rx="20.5" ry="9" fill="#38536f" opacity="0.5" filter="url(#b4)"/>
<ellipse cx="777.0" cy="1028" rx="20.0" ry="9" fill="#38536f" opacity="0.3" filter="url(#b4)"/>
<ellipse cx="650" cy="1075" rx="12" ry="12" fill="#5a6f88" opacity="0.3" filter="url(#b4)"/>
<rect x="496.0" y="981.0" width="323.2" height="158.0" fill="none" stroke="#222" stroke-width="1.5" />
<text x="501.0" y="1129.0" font-size="23.6" fill="#111">Native IB E3bp</text>
<text x="476.5" y="1062.0" font-size="23" text-anchor="end">242</text>
<line x1="479.4" y1="1057.2" x2="553.6" y2="1057.2" stroke="#000" stroke-width="2" />
<text x="911.8" y="655.2" font-size="29">DLD diaphorase activity</text>
<line x1="936.8" y1="711.7" x2="936.8" y2="994.4" stroke="#000" stroke-width="2" />
<line x1="925.3" y1="994.4" x2="936.8" y2="994.4" stroke="#000" stroke-width="2" />
<text x="919.3" y="1001.7" font-size="20.5" text-anchor="end">0</text>
<line x1="925.3" y1="938.1" x2="936.8" y2="938.1" stroke="#000" stroke-width="2" />
<text x="919.3" y="945.4" font-size="20.5" text-anchor="end">5000</text>
<line x1="925.3" y1="881.7" x2="936.8" y2="881.7" stroke="#000" stroke-width="2" />
<text x="919.3" y="889.1" font-size="20.5" text-anchor="end">10000</text>
<line x1="925.3" y1="825.4" x2="936.8" y2="825.4" stroke="#000" stroke-width="2" />
<text x="919.3" y="832.7" font-size="20.5" text-anchor="end">15000</text>
<line x1="925.3" y1="769.0" x2="936.8" y2="769.0" stroke="#000" stroke-width="2" />
<text x="919.3" y="776.4" font-size="20.5" text-anchor="end">20000</text>
<line x1="925.3" y1="712.7" x2="936.8" y2="712.7" stroke="#000" stroke-width="2" />
<text x="919.3" y="720.0" font-size="20.5" text-anchor="end">25000</text>
<text x="856.1" y="843.5" font-size="22.5" text-anchor="middle" transform="rotate(-90 856.1 843.5)">arb. units</text>
<rect x="960.0" y="764.3" width="39.0" height="230.1" fill="#fff" stroke="#000" stroke-width="2" />
<line x1="979.5" y1="994.4" x2="979.5" y2="1006.0" stroke="#000" stroke-width="2" />
<line x1="979.5" y1="749.5" x2="979.5" y2="774.4" stroke="#000" stroke-width="2" />
<line x1="968.0" y1="749.5" x2="991.0" y2="749.5" stroke="#000" stroke-width="2" />
<line x1="968.0" y1="774.4" x2="991.0" y2="774.4" stroke="#000" stroke-width="2" />
<circle cx="979.5" cy="753.8" r="5.2" fill="#000" />
<circle cx="979.5" cy="770.9" r="5.2" fill="#000" />
<rect x="1024.8" y="785.0" width="39.0" height="209.4" fill="#fff" stroke="#000" stroke-width="2" />
<line x1="1044.3" y1="994.4" x2="1044.3" y2="1006.0" stroke="#000" stroke-width="2" />
<line x1="1044.3" y1="749.0" x2="1044.3" y2="816.0" stroke="#000" stroke-width="2" />
<line x1="1032.8" y1="749.0" x2="1055.8" y2="749.0" stroke="#000" stroke-width="2" />
<line x1="1032.8" y1="816.0" x2="1055.8" y2="816.0" stroke="#000" stroke-width="2" />
<circle cx="1044.3" cy="759.0" r="5.2" fill="#000" />
<circle cx="1044.3" cy="806.6" r="5.2" fill="#000" />
<rect x="1089.8" y="827.2" width="39.0" height="167.2" fill="#fff" stroke="#000" stroke-width="2" />
<line x1="1109.3" y1="994.4" x2="1109.3" y2="1006.0" stroke="#000" stroke-width="2" />
<line x1="1109.3" y1="807.7" x2="1109.3" y2="843.4" stroke="#000" stroke-width="2" />
<line x1="1097.8" y1="807.7" x2="1120.8" y2="807.7" stroke="#000" stroke-width="2" />
<line x1="1097.8" y1="843.4" x2="1120.8" y2="843.4" stroke="#000" stroke-width="2" />
<circle cx="1109.3" cy="813.0" r="5.2" fill="#000" />
<circle cx="1109.3" cy="838.3" r="5.2" fill="#000" />
<rect x="1154.9" y="872.3" width="39.0" height="122.1" fill="#fff" stroke="#000" stroke-width="2" />
<line x1="1174.4" y1="994.4" x2="1174.4" y2="1006.0" stroke="#000" stroke-width="2" />
<line x1="1174.4" y1="859.4" x2="1174.4" y2="881.0" stroke="#000" stroke-width="2" />
<line x1="1162.9" y1="859.4" x2="1185.9" y2="859.4" stroke="#000" stroke-width="2" />
<line x1="1162.9" y1="881.0" x2="1185.9" y2="881.0" stroke="#000" stroke-width="2" />
<circle cx="1174.4" cy="863.0" r="5.2" fill="#000" />
<circle cx="1174.4" cy="878.2" r="5.2" fill="#000" />
<text x="980.5" y="1030.7" font-size="21.5" text-anchor="middle">Ctrl1</text>
<text x="1045.3" y="1030.7" font-size="21.5" text-anchor="middle">Ctrl2</text>
<text x="1110.3" y="1030.7" font-size="21.5" text-anchor="middle">LPS1</text>
<text x="1175.4" y="1030.7" font-size="21.5" text-anchor="middle">LPS2</text>
<text x="0" y="0" font-size="57" font-weight="bold" fill="#231f20" transform="translate(1245.0 617.2) scale(1.1 1)">h</text>
<text x="1260.3" y="654.6" font-size="29">DLD dehydrogenase activity</text>
<line x1="1328.1" y1="695.6" x2="1328.1" y2="1003.4" stroke="#000" stroke-width="2" />
<line x1="1316.6" y1="1003.4" x2="1328.1" y2="1003.4" stroke="#000" stroke-width="2" />
<text x="1310.6" y="1011.5" font-size="22.5" text-anchor="end">2.0</text>
<line x1="1316.6" y1="942.0" x2="1328.1" y2="942.0" stroke="#000" stroke-width="2" />
<text x="1310.6" y="950.1" font-size="22.5" text-anchor="end">2.5</text>
<line x1="1316.6" y1="880.7" x2="1328.1" y2="880.7" stroke="#000" stroke-width="2" />
<text x="1310.6" y="888.7" font-size="22.5" text-anchor="end">3.0</text>
<line x1="1316.6" y1="819.3" x2="1328.1" y2="819.3" stroke="#000" stroke-width="2" />
<text x="1310.6" y="827.4" font-size="22.5" text-anchor="end">3.5</text>
<line x1="1316.6" y1="758.0" x2="1328.1" y2="758.0" stroke="#000" stroke-width="2" />
<text x="1310.6" y="766.0" font-size="22.5" text-anchor="end">4.0</text>
<line x1="1316.6" y1="696.6" x2="1328.1" y2="696.6" stroke="#000" stroke-width="2" />
<text x="1310.6" y="704.7" font-size="22.5" text-anchor="end">4.5</text>
<text x="1259.2" y="846.2" font-size="22.5" text-anchor="middle" transform="rotate(-90 1259.2 846.2)">pmoles/min/µg prot</text>
<rect x="1346.5" y="827.1" width="28.5" height="176.3" fill="#fff" stroke="#000" stroke-width="2" />
<rect x="1395.5" y="821.3" width="28.5" height="182.1" fill="#fff" stroke="#000" stroke-width="2" />
<rect x="1477.5" y="912.3" width="28.5" height="91.1" fill="#fff" stroke="#b4b4b4" stroke-width="2" />
<rect x="1526.8" y="909.8" width="28.5" height="93.6" fill="#fff" stroke="#b4b4b4" stroke-width="2" />
<line x1="1360.7" y1="808.0" x2="1360.7" y2="841.6" stroke="#000" stroke-width="2" />
<line x1="1351.7" y1="808.0" x2="1369.7" y2="808.0" stroke="#000" stroke-width="2" />
<line x1="1351.7" y1="841.6" x2="1369.7" y2="841.6" stroke="#000" stroke-width="2" />
<line x1="1409.8" y1="799.1" x2="1409.8" y2="839.1" stroke="#000" stroke-width="2" />
<line x1="1400.8" y1="799.1" x2="1418.8" y2="799.1" stroke="#000" stroke-width="2" />
<line x1="1400.8" y1="839.1" x2="1418.8" y2="839.1" stroke="#000" stroke-width="2" />
<line x1="1491.7" y1="908.5" x2="1491.7" y2="925.8" stroke="#b4b4b4" stroke-width="2" />
<line x1="1482.7" y1="908.5" x2="1500.7" y2="908.5" stroke="#b4b4b4" stroke-width="2" />
<line x1="1482.7" y1="925.8" x2="1500.7" y2="925.8" stroke="#b4b4b4" stroke-width="2" />
<line x1="1541.0" y1="889.9" x2="1541.0" y2="925.0" stroke="#b4b4b4" stroke-width="2" />
<line x1="1532.0" y1="889.9" x2="1550.0" y2="889.9" stroke="#b4b4b4" stroke-width="2" />
<line x1="1532.0" y1="925.0" x2="1550.0" y2="925.0" stroke="#b4b4b4" stroke-width="2" />
<circle cx="1360.7" cy="747.7" r="4.5" fill="#000" />
<circle cx="1360.7" cy="817.4" r="4.5" fill="#000" />
<circle cx="1360.7" cy="828.9" r="4.5" fill="#000" />
<circle cx="1360.7" cy="848.2" r="4.5" fill="#000" />
<circle cx="1372.6" cy="850.0" r="4.5" fill="#000" />
<circle cx="1349.0" cy="857.1" r="4.5" fill="#000" />
<circle cx="1409.5" cy="762.2" r="4.5" fill="#000" />
<circle cx="1409.5" cy="774.2" r="4.5" fill="#000" />
<circle cx="1409.5" cy="803.7" r="4.5" fill="#000" />
<circle cx="1409.5" cy="824.1" r="4.5" fill="#000" />
<circle cx="1409.5" cy="870.9" r="4.5" fill="#000" />
<circle cx="1409.5" cy="881.0" r="4.5" fill="#000" />
<rect x="1475.2" y="892.1" width="8.5" height="8.5" fill="#fff" stroke="#000" stroke-width="1.8"/>
<rect x="1499.4" y="888.2" width="8.5" height="8.5" fill="#fff" stroke="#000" stroke-width="1.8"/>
<rect x="1487.4" y="904.8" width="8.5" height="8.5" fill="#fff" stroke="#000" stroke-width="1.8"/>
<rect x="1475.2" y="925.1" width="8.5" height="8.5" fill="#fff" stroke="#000" stroke-width="1.8"/>
<rect x="1499.4" y="927.9" width="8.5" height="8.5" fill="#fff" stroke="#000" stroke-width="1.8"/>
<rect x="1487.4" y="941.7" width="8.5" height="8.5" fill="#fff" stroke="#000" stroke-width="1.8"/>
<rect x="1536.8" y="844.5" width="8.5" height="8.5" fill="#fff" stroke="#000" stroke-width="1.8"/>
<rect x="1536.8" y="864.8" width="8.5" height="8.5" fill="#fff" stroke="#000" stroke-width="1.8"/>
<rect x="1536.8" y="896.1" width="8.5" height="8.5" fill="#fff" stroke="#000" stroke-width="1.8"/>
<rect x="1524.8" y="925.1" width="8.5" height="8.5" fill="#fff" stroke="#000" stroke-width="1.8"/>
<rect x="1548.5" y="928.4" width="8.5" height="8.5" fill="#fff" stroke="#000" stroke-width="1.8"/>
<rect x="1536.8" y="959.0" width="8.5" height="8.5" fill="#fff" stroke="#000" stroke-width="1.8"/>
<text x="1480.0" y="800.4" font-size="19.5">p&lt;0.0001</text>
<line x1="1492.0" y1="806.0" x2="1543.0" y2="806.0" stroke="#000" stroke-width="1.8" />
<circle cx="1339.0" cy="1032.6" r="4.5" fill="#000" />
<text x="1361.0" y="1040.8" font-size="24">saline</text>
<rect x="1471.5" y="1028.1" width="9" height="9" fill="#fff" stroke="#000" stroke-width="1.8"/>
<text x="1495.5" y="1040.8" font-size="24">LPS</text>
<text x="0" y="0" font-size="57" font-weight="bold" fill="#231f20" transform="translate(1640.0 612.7) scale(1.11 1)">i</text>
<text x="1637.3" y="657.5" font-size="29">DLD dehydrogenase activity</text>
<line x1="1700.0" y1="738.9" x2="1700.0" y2="1000.7" stroke="#000" stroke-width="2" />
<line x1="1688.5" y1="1000.7" x2="1700.0" y2="1000.7" stroke="#000" stroke-width="2" />
<text x="1682.5" y="1008.2" font-size="21" text-anchor="end" font-weight="bold">0</text>
<line x1="1688.5" y1="913.8" x2="1700.0" y2="913.8" stroke="#000" stroke-width="2" />
<text x="1682.5" y="921.3" font-size="21" text-anchor="end" font-weight="bold">50</text>
<line x1="1688.5" y1="826.8" x2="1700.0" y2="826.8" stroke="#000" stroke-width="2" />
<text x="1682.5" y="834.4" font-size="21" text-anchor="end" font-weight="bold">100</text>
<line x1="1688.5" y1="739.9" x2="1700.0" y2="739.9" stroke="#000" stroke-width="2" />
<text x="1682.5" y="747.4" font-size="21" text-anchor="end" font-weight="bold">150</text>
<text x="1639.0" y="863.5" font-size="22.5" text-anchor="middle" transform="rotate(-90 1639.0 863.5)">% pmoles/min/µg prot</text>
<rect x="1717.7" y="828.4" width="29.8" height="172.3" fill="#666666" stroke="#000" stroke-width="2" />
<line x1="1732.6" y1="1000.7" x2="1732.6" y2="1012.0" stroke="#000" stroke-width="2" />
<rect x="1766.8" y="935.3" width="29.8" height="65.4" fill="#d0d0d2" stroke="#000" stroke-width="2" />
<line x1="1781.7" y1="1000.7" x2="1781.7" y2="1012.0" stroke="#000" stroke-width="2" />
<rect x="1815.6" y="946.8" width="29.8" height="53.9" fill="#bdbdbd" stroke="#000" stroke-width="2" />
<line x1="1830.5" y1="1000.7" x2="1830.5" y2="1012.0" stroke="#000" stroke-width="2" />
<rect x="1864.5" y="941.7" width="29.8" height="59.0" fill="#e8e8e8" stroke="#000" stroke-width="2" />
<line x1="1879.4" y1="1000.7" x2="1879.4" y2="1012.0" stroke="#000" stroke-width="2" />
<rect x="1913.3" y="941.7" width="29.8" height="59.0" fill="#ababab" stroke="#000" stroke-width="2" />
<line x1="1928.2" y1="1000.7" x2="1928.2" y2="1012.0" stroke="#000" stroke-width="2" />
<line x1="1732.6" y1="808.9" x2="1732.6" y2="845.0" stroke="#000" stroke-width="2" />
<line x1="1723.6" y1="808.9" x2="1741.6" y2="808.9" stroke="#000" stroke-width="2" />
<line x1="1723.6" y1="845.0" x2="1741.6" y2="845.0" stroke="#000" stroke-width="2" />
<line x1="1830.5" y1="938.6" x2="1830.5" y2="946.8" stroke="#000" stroke-width="2" />
<line x1="1821.5" y1="938.6" x2="1839.5" y2="938.6" stroke="#000" stroke-width="2" />
<line x1="1821.5" y1="946.8" x2="1839.5" y2="946.8" stroke="#000" stroke-width="2" />
<line x1="1928.2" y1="940.4" x2="1928.2" y2="945.5" stroke="#000" stroke-width="2" />
<line x1="1919.2" y1="940.4" x2="1937.2" y2="940.4" stroke="#000" stroke-width="2" />
<line x1="1919.2" y1="945.5" x2="1937.2" y2="945.5" stroke="#000" stroke-width="2" />
<circle cx="1732.6" cy="791.6" r="4.7" fill="#000" />
<circle cx="1732.6" cy="838.1" r="4.7" fill="#000" />
<circle cx="1732.6" cy="850.8" r="4.7" fill="#000" />
<circle cx="1771.0" cy="934.0" r="4.7" fill="#000" />
<circle cx="1778.9" cy="928.2" r="4.7" fill="#000" />
<circle cx="1786.3" cy="935.3" r="4.7" fill="#000" />
<circle cx="1793.4" cy="933.5" r="4.7" fill="#000" />
<circle cx="1831.0" cy="915.0" r="4.7" fill="#000" />
<circle cx="1819.3" cy="953.1" r="4.7" fill="#000" />
<circle cx="1825.2" cy="946.8" r="4.7" fill="#000" />
<circle cx="1831.0" cy="953.1" r="4.7" fill="#000" />
<circle cx="1836.6" cy="946.8" r="4.7" fill="#000" />
<circle cx="1842.5" cy="953.9" r="4.7" fill="#000" />
<circle cx="1831.0" cy="950.6" r="4.7" fill="#000" />
<circle cx="1868.4" cy="945.5" r="4.7" fill="#000" />
<circle cx="1879.9" cy="940.9" r="4.7" fill="#000" />
<circle cx="1890.8" cy="941.2" r="4.7" fill="#000" />
<circle cx="1917.6" cy="937.9" r="4.7" fill="#000" />
<circle cx="1917.6" cy="949.3" r="4.7" fill="#000" />
<circle cx="1939.7" cy="943.0" r="4.7" fill="#000" />
<polyline points="1732.6,776.5 1732.6,760.5 1776.8,760.5 1776.8,912.4" stroke="#000" stroke-width="1.8" fill="none" />
<line x1="1789.6" y1="759.7" x2="1789.6" y2="773.7" stroke="#000" stroke-width="1.8" />
<polyline points="1789.6,759.7 1937.2,759.7 1937.2,793.6" stroke="#000" stroke-width="1.8" fill="none" />
<polyline points="1789.6,766.1 1891.9,766.1 1891.9,792.8" stroke="#000" stroke-width="1.8" fill="none" />
<polyline points="1789.6,772.5 1831.0,772.5 1831.0,794.0" stroke="#000" stroke-width="1.8" fill="none" />
<text x="1714.0" y="747.0" font-size="19.5">p&lt;0.0001</text>
<text x="1823.5" y="747.0" font-size="21">ns</text>
<text x="1742.6" y="1030.2" font-size="23" text-anchor="end" transform="rotate(-45 1742.6 1030.2)">Ctrl</text>
<text x="1788.7" y="1031.0" font-size="23" text-anchor="end" transform="rotate(-45 1788.7 1031.0)">LPS</text>
<text x="1849.3" y="1023.2" font-size="23" text-anchor="end" transform="rotate(-45 1849.3 1023.2)">LPS DTT</text>
<text x="1898.4" y="1024.5" font-size="23" text-anchor="end" transform="rotate(-45 1898.4 1024.5)">LPS Cys</text>
<text x="1947.7" y="1024.7" font-size="23" text-anchor="end" transform="rotate(-45 1947.7 1024.7)">LPS GSH</text>
<text x="0" y="0" font-size="57" font-weight="bold" fill="#231f20" transform="translate(14.2 1226.0) scale(1.02 1)">j</text>
<text x="118.8" y="1225.5" font-size="29">pyruvate OCR</text>
<line x1="98.2" y1="1275.1" x2="98.2" y2="1563.4" stroke="#000" stroke-width="2" />
<line x1="86.7" y1="1526.5" x2="98.2" y2="1526.5" stroke="#000" stroke-width="2" />
<text x="80.7" y="1534.0" font-size="21" text-anchor="end" font-weight="bold">50</text>
<line x1="86.7" y1="1463.9" x2="98.2" y2="1463.9" stroke="#000" stroke-width="2" />
<text x="80.7" y="1471.4" font-size="21" text-anchor="end" font-weight="bold">75</text>
<line x1="86.7" y1="1401.3" x2="98.2" y2="1401.3" stroke="#000" stroke-width="2" />
<text x="80.7" y="1408.8" font-size="21" text-anchor="end" font-weight="bold">100</text>
<line x1="86.7" y1="1338.7" x2="98.2" y2="1338.7" stroke="#000" stroke-width="2" />
<text x="80.7" y="1346.2" font-size="21" text-anchor="end" font-weight="bold">125</text>
<line x1="86.7" y1="1276.1" x2="98.2" y2="1276.1" stroke="#000" stroke-width="2" />
<text x="80.7" y="1283.6" font-size="21" text-anchor="end" font-weight="bold">150</text>
<text x="27.3" y="1421.4" font-size="22.5" text-anchor="middle" transform="rotate(-90 27.3 1421.4)">% pmoles/min</text>
<rect x="117.6" y="1404.2" width="32.0" height="159.2" fill="#666666" stroke="#000" stroke-width="2" />
<line x1="133.6" y1="1563.4" x2="133.6" y2="1575.3" stroke="#000" stroke-width="2" />
<rect x="171.5" y="1435.4" width="32.0" height="128.0" fill="#d0d0d2" stroke="#000" stroke-width="2" />
<line x1="187.5" y1="1563.4" x2="187.5" y2="1575.3" stroke="#000" stroke-width="2" />
<rect x="225.6" y="1404.2" width="32.0" height="159.2" fill="#bdbdbd" stroke="#000" stroke-width="2" />
<line x1="241.6" y1="1563.4" x2="241.6" y2="1575.3" stroke="#000" stroke-width="2" />
<rect x="279.7" y="1418.0" width="32.0" height="145.4" fill="#e6e6e6" stroke="#000" stroke-width="2" />
<line x1="295.7" y1="1563.4" x2="295.7" y2="1575.3" stroke="#000" stroke-width="2" />
<circle cx="133.6" cy="1320.5" r="4.8" fill="#000" />
<circle cx="128.8" cy="1358.0" r="4.8" fill="#000" />
<circle cx="120.1" cy="1366.7" r="4.8" fill="#000" />
<circle cx="137.8" cy="1363.3" r="4.8" fill="#000" />
<circle cx="147.1" cy="1366.7" r="4.8" fill="#000" />
<circle cx="128.8" cy="1374.7" r="4.8" fill="#000" />
<circle cx="137.8" cy="1383.9" r="4.8" fill="#000" />
<circle cx="137.8" cy="1391.8" r="4.8" fill="#000" />
<circle cx="120.1" cy="1402.4" r="4.8" fill="#000" />
<circle cx="128.8" cy="1405.0" r="4.8" fill="#000" />
<circle cx="147.1" cy="1399.7" r="4.8" fill="#000" />
<circle cx="120.1" cy="1412.9" r="4.8" fill="#000" />
<circle cx="137.8" cy="1409.5" r="4.8" fill="#000" />
<circle cx="128.8" cy="1418.2" r="4.8" fill="#000" />
<circle cx="120.1" cy="1422.7" r="4.8" fill="#000" />
<circle cx="147.1" cy="1420.1" r="4.8" fill="#000" />
<circle cx="128.8" cy="1426.7" r="4.8" fill="#000" />
<circle cx="137.8" cy="1427.2" r="4.8" fill="#000" />
<circle cx="128.8" cy="1434.6" r="4.8" fill="#000" />
<circle cx="128.8" cy="1443.8" r="4.8" fill="#000" />
<circle cx="137.8" cy="1451.7" r="4.8" fill="#000" />
<circle cx="128.8" cy="1459.1" r="4.8" fill="#000" />
<circle cx="124.1" cy="1406.9" r="4.8" fill="#000" />
<circle cx="142.6" cy="1412.1" r="4.8" fill="#000" />
<circle cx="190.1" cy="1373.9" r="4.8" fill="#000" />
<circle cx="184.8" cy="1379.1" r="4.8" fill="#000" />
<circle cx="187.5" cy="1392.3" r="4.8" fill="#000" />
<circle cx="184.8" cy="1406.9" r="4.8" fill="#000" />
<circle cx="191.4" cy="1406.9" r="4.8" fill="#000" />
<circle cx="196.7" cy="1410.8" r="4.8" fill="#000" />
<circle cx="174.3" cy="1418.2" r="4.8" fill="#000" />
<circle cx="202.0" cy="1415.6" r="4.8" fill="#000" />
<circle cx="182.2" cy="1420.1" r="4.8" fill="#000" />
<circle cx="195.4" cy="1421.4" r="4.8" fill="#000" />
<circle cx="174.3" cy="1426.7" r="4.8" fill="#000" />
<circle cx="182.2" cy="1428.0" r="4.8" fill="#000" />
<circle cx="190.1" cy="1428.0" r="4.8" fill="#000" />
<circle cx="202.0" cy="1425.3" r="4.8" fill="#000" />
<circle cx="190.1" cy="1435.9" r="4.8" fill="#000" />
<circle cx="184.8" cy="1453.1" r="4.8" fill="#000" />
<circle cx="182.2" cy="1458.3" r="4.8" fill="#000" />
<circle cx="190.1" cy="1458.3" r="4.8" fill="#000" />
<circle cx="184.8" cy="1466.3" r="4.8" fill="#000" />
<circle cx="191.4" cy="1467.6" r="4.8" fill="#000" />
<circle cx="184.8" cy="1474.2" r="4.8" fill="#000" />
<circle cx="187.5" cy="1482.6" r="4.8" fill="#000" />
<circle cx="187.5" cy="1523.0" r="4.8" fill="#000" />
<circle cx="179.5" cy="1424.0" r="4.8" fill="#000" />
<rect x="237.9" y="1290.9" width="8.5" height="8.5" fill="#fff" stroke="#000" stroke-width="1.8"/>
<rect x="242.1" y="1314.7" width="8.5" height="8.5" fill="#fff" stroke="#000" stroke-width="1.8"/>
<rect x="233.4" y="1319.4" width="8.5" height="8.5" fill="#fff" stroke="#000" stroke-width="1.8"/>
<rect x="242.1" y="1332.1" width="8.5" height="8.5" fill="#fff" stroke="#000" stroke-width="1.8"/>
<rect x="233.4" y="1335.3" width="8.5" height="8.5" fill="#fff" stroke="#000" stroke-width="1.8"/>
<rect x="237.9" y="1348.5" width="8.5" height="8.5" fill="#fff" stroke="#000" stroke-width="1.8"/>
<rect x="237.9" y="1357.7" width="8.5" height="8.5" fill="#fff" stroke="#000" stroke-width="1.8"/>
<rect x="224.1" y="1372.8" width="8.5" height="8.5" fill="#fff" stroke="#000" stroke-width="1.8"/>
<rect x="242.1" y="1372.8" width="8.5" height="8.5" fill="#fff" stroke="#000" stroke-width="1.8"/>
<rect x="233.4" y="1378.9" width="8.5" height="8.5" fill="#fff" stroke="#000" stroke-width="1.8"/>
<rect x="251.1" y="1379.6" width="8.5" height="8.5" fill="#fff" stroke="#000" stroke-width="1.8"/>
<rect x="224.1" y="1385.5" width="8.5" height="8.5" fill="#fff" stroke="#000" stroke-width="1.8"/>
<rect x="233.4" y="1386.8" width="8.5" height="8.5" fill="#fff" stroke="#000" stroke-width="1.8"/>
<rect x="242.1" y="1385.5" width="8.5" height="8.5" fill="#fff" stroke="#000" stroke-width="1.8"/>
<rect x="251.1" y="1388.6" width="8.5" height="8.5" fill="#fff" stroke="#000" stroke-width="1.8"/>
<rect x="233.4" y="1395.5" width="8.5" height="8.5" fill="#fff" stroke="#000" stroke-width="1.8"/>
<rect x="242.1" y="1394.7" width="8.5" height="8.5" fill="#fff" stroke="#000" stroke-width="1.8"/>
<rect x="224.1" y="1415.8" width="8.5" height="8.5" fill="#fff" stroke="#000" stroke-width="1.8"/>
<rect x="233.4" y="1419.2" width="8.5" height="8.5" fill="#fff" stroke="#000" stroke-width="1.8"/>
<rect x="251.1" y="1411.9" width="8.5" height="8.5" fill="#fff" stroke="#000" stroke-width="1.8"/>
<rect x="237.9" y="1433.0" width="8.5" height="8.5" fill="#fff" stroke="#000" stroke-width="1.8"/>
<rect x="237.9" y="1448.8" width="8.5" height="8.5" fill="#fff" stroke="#000" stroke-width="1.8"/>
<rect x="237.9" y="1477.9" width="8.5" height="8.5" fill="#fff" stroke="#000" stroke-width="1.8"/>
<rect x="237.9" y="1489.0" width="8.5" height="8.5" fill="#fff" stroke="#000" stroke-width="1.8"/>
<rect x="237.9" y="1529.3" width="8.5" height="8.5" fill="#fff" stroke="#000" stroke-width="1.8"/>
<rect x="237.9" y="1545.2" width="8.5" height="8.5" fill="#fff" stroke="#000" stroke-width="1.8"/>
<rect x="242.1" y="1403.9" width="8.5" height="8.5" fill="#fff" stroke="#000" stroke-width="1.8"/>
<rect x="294.9" y="1343.7" width="8.5" height="8.5" fill="#fff" stroke="#000" stroke-width="1.8"/>
<rect x="288.8" y="1351.7" width="8.5" height="8.5" fill="#fff" stroke="#000" stroke-width="1.8"/>
<rect x="294.9" y="1359.6" width="8.5" height="8.5" fill="#fff" stroke="#000" stroke-width="1.8"/>
<rect x="288.8" y="1365.7" width="8.5" height="8.5" fill="#fff" stroke="#000" stroke-width="1.8"/>
<rect x="294.9" y="1373.6" width="8.5" height="8.5" fill="#fff" stroke="#000" stroke-width="1.8"/>
<rect x="299.4" y="1396.5" width="8.5" height="8.5" fill="#fff" stroke="#000" stroke-width="1.8"/>
<rect x="279.6" y="1402.6" width="8.5" height="8.5" fill="#fff" stroke="#000" stroke-width="1.8"/>
<rect x="288.8" y="1401.3" width="8.5" height="8.5" fill="#fff" stroke="#000" stroke-width="1.8"/>
<rect x="294.9" y="1402.6" width="8.5" height="8.5" fill="#fff" stroke="#000" stroke-width="1.8"/>
<rect x="306.0" y="1403.4" width="8.5" height="8.5" fill="#fff" stroke="#000" stroke-width="1.8"/>
<rect x="284.9" y="1409.2" width="8.5" height="8.5" fill="#fff" stroke="#000" stroke-width="1.8"/>
<rect x="299.4" y="1421.9" width="8.5" height="8.5" fill="#fff" stroke="#000" stroke-width="1.8"/>
<rect x="282.2" y="1429.0" width="8.5" height="8.5" fill="#fff" stroke="#000" stroke-width="1.8"/>
<rect x="294.9" y="1431.7" width="8.5" height="8.5" fill="#fff" stroke="#000" stroke-width="1.8"/>
<rect x="288.8" y="1433.0" width="8.5" height="8.5" fill="#fff" stroke="#000" stroke-width="1.8"/>
<rect x="291.5" y="1442.2" width="8.5" height="8.5" fill="#fff" stroke="#000" stroke-width="1.8"/>
<rect x="291.5" y="1457.5" width="8.5" height="8.5" fill="#fff" stroke="#000" stroke-width="1.8"/>
<rect x="288.8" y="1469.9" width="8.5" height="8.5" fill="#fff" stroke="#000" stroke-width="1.8"/>
<rect x="294.9" y="1478.4" width="8.5" height="8.5" fill="#fff" stroke="#000" stroke-width="1.8"/>
<rect x="288.8" y="1481.0" width="8.5" height="8.5" fill="#fff" stroke="#000" stroke-width="1.8"/>
<rect x="294.9" y="1409.2" width="8.5" height="8.5" fill="#fff" stroke="#000" stroke-width="1.8"/>
<line x1="133.6" y1="1393.7" x2="133.6" y2="1409.5" stroke="#000" stroke-width="2" />
<line x1="124.6" y1="1393.7" x2="142.6" y2="1393.7" stroke="#000" stroke-width="2" />
<line x1="124.6" y1="1409.5" x2="142.6" y2="1409.5" stroke="#000" stroke-width="2" />
<line x1="187.5" y1="1431.9" x2="187.5" y2="1439.3" stroke="#000" stroke-width="2" />
<line x1="178.5" y1="1431.9" x2="196.5" y2="1431.9" stroke="#000" stroke-width="2" />
<line x1="178.5" y1="1439.3" x2="196.5" y2="1439.3" stroke="#000" stroke-width="2" />
<line x1="241.6" y1="1398.9" x2="241.6" y2="1414.8" stroke="#000" stroke-width="2" />
<line x1="232.6" y1="1398.9" x2="250.6" y2="1398.9" stroke="#000" stroke-width="2" />
<line x1="232.6" y1="1414.8" x2="250.6" y2="1414.8" stroke="#000" stroke-width="2" />
<line x1="295.7" y1="1412.1" x2="295.7" y2="1424.0" stroke="#000" stroke-width="2" />
<line x1="286.7" y1="1412.1" x2="304.7" y2="1412.1" stroke="#000" stroke-width="2" />
<line x1="286.7" y1="1424.0" x2="304.7" y2="1424.0" stroke="#000" stroke-width="2" />
<polyline points="133.6,1305.2 133.6,1285.7 187.5,1285.7 187.5,1337.4" stroke="#000" stroke-width="1.8" fill="none" />
<text x="120.2" y="1273.5" font-size="20">p=0.0035</text>
<text x="228.5" y="1273.5" font-size="20">p=0.3833</text>
<line x1="243.4" y1="1282.0" x2="299.0" y2="1282.0" stroke="#000" stroke-width="1.8" />
<text x="134.1" y="1594.3" font-size="22.5" text-anchor="middle">Ctrl</text>
<text x="188.0" y="1594.3" font-size="22.5" text-anchor="middle">LPS</text>
<text x="242.1" y="1594.3" font-size="22.5" text-anchor="middle">Ctrl</text>
<text x="296.2" y="1594.3" font-size="22.5" text-anchor="middle">LPS</text>
<circle cx="381.8" cy="1265.0" r="4.8" fill="#000" />
<text x="399.5" y="1273.5" font-size="22.5">WT</text>
<rect x="377.1" y="1294.2" width="9.5" height="9.5" fill="#fff" stroke="#000" stroke-width="1.8"/>
<text x="399.5" y="1309.0" font-size="22.5" font-style="italic">Nos2</text>
<text x="450.0" y="1300.5" font-size="13" font-style="italic">-/-</text>
<text x="0" y="0" font-size="57" font-weight="bold" fill="#231f20" transform="translate(433.0 1231.8) scale(1.1 1)">k</text>
<text x="527.3" y="1220.2" font-size="29">DLD dehydrogenase activity</text>
<line x1="558.8" y1="1315.4" x2="558.8" y2="1567.4" stroke="#000" stroke-width="2" />
<line x1="547.3" y1="1567.4" x2="558.8" y2="1567.4" stroke="#000" stroke-width="2" />
<text x="541.3" y="1574.9" font-size="21" text-anchor="end" font-weight="bold">70</text>
<line x1="547.3" y1="1517.2" x2="558.8" y2="1517.2" stroke="#000" stroke-width="2" />
<text x="541.3" y="1524.7" font-size="21" text-anchor="end" font-weight="bold">80</text>
<line x1="547.3" y1="1467.0" x2="558.8" y2="1467.0" stroke="#000" stroke-width="2" />
<text x="541.3" y="1474.5" font-size="21" text-anchor="end" font-weight="bold">90</text>
<line x1="547.3" y1="1416.8" x2="558.8" y2="1416.8" stroke="#000" stroke-width="2" />
<text x="541.3" y="1424.3" font-size="21" text-anchor="end" font-weight="bold">100</text>
<line x1="547.3" y1="1366.6" x2="558.8" y2="1366.6" stroke="#000" stroke-width="2" />
<text x="541.3" y="1374.1" font-size="21" text-anchor="end" font-weight="bold">110</text>
<line x1="547.3" y1="1316.4" x2="558.8" y2="1316.4" stroke="#000" stroke-width="2" />
<text x="541.3" y="1323.9" font-size="21" text-anchor="end" font-weight="bold">120</text>
<text x="497.8" y="1434.5" font-size="22.5" text-anchor="middle" transform="rotate(-90 497.8 1434.5)">% pmoles/min/µg prot</text>
<rect x="576.6" y="1418.7" width="30.3" height="148.7" fill="#666666" stroke="#000" stroke-width="2" />
<line x1="591.8" y1="1567.4" x2="591.8" y2="1579.0" stroke="#000" stroke-width="2" />
<rect x="627.4" y="1525.7" width="30.3" height="41.7" fill="#666666" stroke="#000" stroke-width="2" />
<line x1="642.5" y1="1567.4" x2="642.5" y2="1579.0" stroke="#000" stroke-width="2" />
<rect x="710.6" y="1418.7" width="30.3" height="148.7" fill="#d0d0d2" stroke="#000" stroke-width="2" />
<line x1="725.7" y1="1567.4" x2="725.7" y2="1579.0" stroke="#000" stroke-width="2" />
<rect x="760.9" y="1444.4" width="30.3" height="123.0" fill="#d0d0d2" stroke="#000" stroke-width="2" />
<line x1="776.0" y1="1567.4" x2="776.0" y2="1579.0" stroke="#000" stroke-width="2" />
<line x1="591.8" y1="1399.7" x2="591.8" y2="1433.8" stroke="#000" stroke-width="2" />
<line x1="582.8" y1="1399.7" x2="600.8" y2="1399.7" stroke="#000" stroke-width="2" />
<line x1="582.8" y1="1433.8" x2="600.8" y2="1433.8" stroke="#000" stroke-width="2" />
<line x1="642.5" y1="1517.8" x2="642.5" y2="1527.0" stroke="#000" stroke-width="2" />
<line x1="633.5" y1="1517.8" x2="651.5" y2="1517.8" stroke="#000" stroke-width="2" />
<line x1="633.5" y1="1527.0" x2="651.5" y2="1527.0" stroke="#000" stroke-width="2" />
<line x1="725.7" y1="1395.0" x2="725.7" y2="1437.2" stroke="#000" stroke-width="2" />
<line x1="716.7" y1="1395.0" x2="734.7" y2="1395.0" stroke="#000" stroke-width="2" />
<line x1="716.7" y1="1437.2" x2="734.7" y2="1437.2" stroke="#000" stroke-width="2" />
<line x1="776.0" y1="1434.6" x2="776.0" y2="1445.1" stroke="#000" stroke-width="2" />
<line x1="767.0" y1="1434.6" x2="785.0" y2="1434.6" stroke="#000" stroke-width="2" />
<line x1="767.0" y1="1445.1" x2="785.0" y2="1445.1" stroke="#000" stroke-width="2" />
<circle cx="591.8" cy="1356.7" r="4.8" fill="#000" />
<circle cx="591.8" cy="1377.3" r="4.8" fill="#000" />
<circle cx="591.8" cy="1406.9" r="4.8" fill="#000" />
<circle cx="580.5" cy="1420.9" r="4.8" fill="#000" />
<circle cx="603.7" cy="1416.1" r="4.8" fill="#000" />
<circle cx="591.8" cy="1451.7" r="4.8" fill="#000" />
<circle cx="591.8" cy="1489.5" r="4.8" fill="#000" />
<circle cx="642.5" cy="1488.2" r="4.8" fill="#000" />
<circle cx="630.6" cy="1515.1" r="4.8" fill="#000" />
<circle cx="654.4" cy="1523.8" r="4.8" fill="#000" />
<circle cx="630.6" cy="1531.0" r="4.8" fill="#000" />
<circle cx="642.5" cy="1533.1" r="4.8" fill="#000" />
<circle cx="654.4" cy="1537.0" r="4.8" fill="#000" />
<circle cx="630.6" cy="1542.8" r="4.8" fill="#000" />
<rect x="716.1" y="1330.8" width="8.5" height="8.5" fill="#fff" stroke="#000" stroke-width="1.8"/>
<rect x="727.5" y="1331.3" width="8.5" height="8.5" fill="#fff" stroke="#000" stroke-width="1.8"/>
<rect x="722.2" y="1425.1" width="8.5" height="8.5" fill="#fff" stroke="#000" stroke-width="1.8"/>
<rect x="722.2" y="1436.4" width="8.5" height="8.5" fill="#fff" stroke="#000" stroke-width="1.8"/>
<rect x="722.2" y="1449.3" width="8.5" height="8.5" fill="#fff" stroke="#000" stroke-width="1.8"/>
<rect x="710.3" y="1458.9" width="8.5" height="8.5" fill="#fff" stroke="#000" stroke-width="1.8"/>
<rect x="733.6" y="1456.7" width="8.5" height="8.5" fill="#fff" stroke="#000" stroke-width="1.8"/>
<rect x="771.9" y="1396.5" width="8.5" height="8.5" fill="#fff" stroke="#000" stroke-width="1.8"/>
<rect x="771.9" y="1420.6" width="8.5" height="8.5" fill="#fff" stroke="#000" stroke-width="1.8"/>
<rect x="783.7" y="1436.9" width="8.5" height="8.5" fill="#fff" stroke="#000" stroke-width="1.8"/>
<rect x="760.0" y="1446.2" width="8.5" height="8.5" fill="#fff" stroke="#000" stroke-width="1.8"/>
<rect x="771.9" y="1450.7" width="8.5" height="8.5" fill="#fff" stroke="#000" stroke-width="1.8"/>
<rect x="783.7" y="1449.3" width="8.5" height="8.5" fill="#fff" stroke="#000" stroke-width="1.8"/>
<rect x="771.9" y="1466.0" width="8.5" height="8.5" fill="#fff" stroke="#000" stroke-width="1.8"/>
<polyline points="591.8,1342.2 591.8,1304.7 642.5,1304.7 642.5,1474.2" stroke="#000" stroke-width="1.8" fill="none" />
<text x="570.8" y="1293.3" font-size="20">p&lt;0.0001</text>
<polyline points="725.7,1319.7 725.7,1304.7 776.0,1304.7 776.0,1385.7" stroke="#000" stroke-width="1.8" fill="none" />
<text x="711.5" y="1290.7" font-size="20">p=0.4166</text>
<text x="593.8" y="1599.0" font-size="22.5" text-anchor="middle">Ctrl</text>
<text x="645.1" y="1599.0" font-size="22.5" text-anchor="middle">LPS</text>
<text x="727.8" y="1599.0" font-size="22.5" text-anchor="middle">Ctrl</text>
<text x="779.7" y="1599.0" font-size="22.5" text-anchor="middle">LPS</text>
<text x="0" y="0" font-size="57" font-weight="bold" fill="#231f20" transform="translate(916.5 1239.5) scale(1.1 1)">l</text>
<text x="968.0" y="1239.5" font-size="23">kDa</text>
<text x="1104.0" y="1215.8" font-size="23">WT</text>
<text x="1177.5" y="1215.8" font-size="23">WT</text>
<text x="1104.0" y="1243.5" font-size="23">Ctrl</text>
<text x="1177.5" y="1243.5" font-size="23">LPS</text>
<text x="1265.0" y="1215.8" font-size="23" font-style="italic">Nos2</text>
<text x="1316.0" y="1206.0" font-size="12" font-style="italic">-/-</text>
<text x="1265.0" y="1243.5" font-size="23" font-style="italic">Ctrl</text>
<text x="1341.5" y="1215.8" font-size="23" font-style="italic">Nos2</text>
<text x="1392.5" y="1206.0" font-size="12" font-style="italic">-/-</text>
<text x="1341.5" y="1243.5" font-size="23" font-style="italic">LPS</text>
<clipPath id="gell1c"><rect x="1016.4" y="1247.8" width="377.6" height="143.9"/></clipPath>
<linearGradient id="gell1l" x1="0" y1="0" x2="0" y2="1"><stop offset="0" stop-color="#4c96d2" stop-opacity="0.6"/><stop offset="0.4" stop-color="#428cce" stop-opacity="0.85"/><stop offset="0.5" stop-color="#3b84c8" stop-opacity="1"/><stop offset="1" stop-color="#3a82c6" stop-opacity="1"/></linearGradient>
<filter id="gell1f" x="-10%" y="-10%" width="120%" height="120%"><feGaussianBlur stdDeviation="3"/></filter>
<g clip-path="url(#gell1c)">
<linearGradient id="gell1b" x1="0" y1="0" x2="1" y2="0"><stop offset="0" stop-color="#63ade0"/><stop offset="0.3" stop-color="#58a3da"/><stop offset="1" stop-color="#4a94d2"/></linearGradient>
<rect x="1016.4" y="1247.8" width="377.6" height="143.9" fill="url(#gell1b)"/>
<rect x="1081" y="1243.8" width="76" height="151.9" fill="url(#gell1l)" filter="url(#gell1f)"/>
<rect x="1161" y="1243.8" width="73" height="151.9" fill="url(#gell1l)" filter="url(#gell1f)"/>
<rect x="1238.5" y="1243.8" width="68.5" height="151.9" fill="url(#gell1l)" filter="url(#gell1f)"/>
<rect x="1316" y="1243.8" width="71" height="151.9" fill="url(#gell1l)" filter="url(#gell1f)"/>
<rect x="1084" y="1302.0" width="70" height="13" rx="6.5" fill="#2f62b2" opacity="0.35" filter="url(#b4)"/>
<rect x="1164" y="1302.0" width="67" height="13" rx="6.5" fill="#2f62b2" opacity="0.35" filter="url(#b4)"/>
<rect x="1241.5" y="1302.0" width="62.5" height="13" rx="6.5" fill="#2f62b2" opacity="0.45" filter="url(#b4)"/>
<rect x="1319" y="1302.0" width="65" height="13" rx="6.5" fill="#2f62b2" opacity="0.45" filter="url(#b4)"/>
</g>
<rect x="1016.4" y="1247.8" width="377.6" height="143.9" fill="none" stroke="#333" stroke-width="1.5"/>
<text x="1024.0" y="1383.0" font-size="25" font-style="italic" fill="#111" textLength="192.0" lengthAdjust="spacingAndGlyphs">DLD diaphorase</text>
<text x="977.8" y="1275.0" font-size="23" text-anchor="end">242</text>
<line x1="980.0" y1="1266.7" x2="1039.3" y2="1266.7" stroke="#000" stroke-width="2" />
<text x="977.8" y="1334.3" font-size="23" text-anchor="end">146</text>
<line x1="980.0" y1="1326.0" x2="1039.3" y2="1326.0" stroke="#000" stroke-width="2" />
<rect x="1016.4" y="1411.7" width="377.6" height="146.5" fill="#d6cfe2"  />
<rect x="1018" y="1413" width="14" height="144" fill="#c6cfe6" opacity="0.8"/>
<ellipse cx="1071" cy="1423" rx="20" ry="6" fill="#ee88a6" opacity="0.85" filter="url(#b4)"/>
<ellipse cx="1070" cy="1478" rx="18" ry="4" fill="#d8d8a8" opacity="0.8" filter="url(#b2)"/>
<ellipse cx="1062" cy="1527" rx="16" ry="4" fill="#f09ab0" opacity="0.6" filter="url(#b2)"/>
<rect x="1045" y="1413" width="42" height="144" fill="#e6c6d6" opacity="0.3" filter="url(#b4)"/>
<rect x="1106" y="1463.0" width="59.40000000000009" height="15" rx="7" fill="#060408" filter="url(#b1)"/>
<rect x="1176" y="1466.5" width="60" height="15" rx="7" fill="#060408" filter="url(#b1)"/>
<rect x="1244.7" y="1467.5" width="63.799999999999955" height="15" rx="7" fill="#060408" filter="url(#b1)"/>
<rect x="1317.6" y="1467.5" width="65.80000000000018" height="15" rx="7" fill="#060408" filter="url(#b1)"/>
<rect x="1016.4" y="1411.7" width="377.6" height="146.5" fill="none" stroke="#777" stroke-width="1.2" />
<text x="1041.0" y="1547.6" font-size="25.5" font-style="italic" fill="#111" textLength="87.0" lengthAdjust="spacingAndGlyphs">SDS IB</text>
<text x="975.0" y="1482.8" font-size="23" text-anchor="end">49</text>
<line x1="980.0" y1="1474.6" x2="1039.3" y2="1474.6" stroke="#000" stroke-width="2" />
<text x="1561.8" y="1228.0" font-size="29">DLD diaphorase activity</text>
<line x1="1573.1" y1="1256.5" x2="1573.1" y2="1540.4" stroke="#000" stroke-width="2" />
<line x1="1561.6" y1="1540.4" x2="1573.1" y2="1540.4" stroke="#000" stroke-width="2" />
<text x="1555.6" y="1547.9" font-size="21" text-anchor="end" font-weight="bold">0</text>
<line x1="1561.6" y1="1446.1" x2="1573.1" y2="1446.1" stroke="#000" stroke-width="2" />
<text x="1555.6" y="1453.6" font-size="21" text-anchor="end" font-weight="bold">5000</text>
<line x1="1561.6" y1="1351.8" x2="1573.1" y2="1351.8" stroke="#000" stroke-width="2" />
<text x="1555.6" y="1359.3" font-size="21" text-anchor="end" font-weight="bold">10000</text>
<line x1="1561.6" y1="1257.5" x2="1573.1" y2="1257.5" stroke="#000" stroke-width="2" />
<text x="1555.6" y="1265.0" font-size="21" text-anchor="end" font-weight="bold">15000</text>
<text x="1490.4" y="1387.5" font-size="22.5" text-anchor="middle" transform="rotate(-90 1490.4 1387.5)">arb. units</text>
<rect x="1596.9" y="1305.9" width="39.6" height="234.5" fill="#fff" stroke="#000" stroke-width="2" />
<line x1="1616.7" y1="1540.4" x2="1616.7" y2="1552.0" stroke="#000" stroke-width="2" />
<line x1="1616.7" y1="1281.1" x2="1616.7" y2="1326.0" stroke="#000" stroke-width="2" />
<line x1="1605.2" y1="1281.1" x2="1628.2" y2="1281.1" stroke="#000" stroke-width="2" />
<line x1="1605.2" y1="1326.0" x2="1628.2" y2="1326.0" stroke="#000" stroke-width="2" />
<circle cx="1616.7" cy="1287.7" r="5.2" fill="#000" />
<circle cx="1616.7" cy="1320.0" r="5.2" fill="#000" />
<rect x="1662.4" y="1396.5" width="39.6" height="143.9" fill="#fff" stroke="#000" stroke-width="2" />
<line x1="1682.2" y1="1540.4" x2="1682.2" y2="1552.0" stroke="#000" stroke-width="2" />
<line x1="1682.2" y1="1362.7" x2="1682.2" y2="1425.5" stroke="#000" stroke-width="2" />
<line x1="1670.7" y1="1362.7" x2="1693.7" y2="1362.7" stroke="#000" stroke-width="2" />
<line x1="1670.7" y1="1425.5" x2="1693.7" y2="1425.5" stroke="#000" stroke-width="2" />
<circle cx="1682.2" cy="1372.2" r="5.2" fill="#000" />
<circle cx="1682.2" cy="1416.3" r="5.2" fill="#000" />
<rect x="1727.6" y="1379.3" width="39.6" height="161.1" fill="#fff" stroke="#000" stroke-width="2" />
<line x1="1747.4" y1="1540.4" x2="1747.4" y2="1552.0" stroke="#000" stroke-width="2" />
<line x1="1747.4" y1="1338.4" x2="1747.4" y2="1415.0" stroke="#000" stroke-width="2" />
<line x1="1735.9" y1="1338.4" x2="1758.9" y2="1338.4" stroke="#000" stroke-width="2" />
<line x1="1735.9" y1="1415.0" x2="1758.9" y2="1415.0" stroke="#000" stroke-width="2" />
<circle cx="1747.4" cy="1350.3" r="5.2" fill="#000" />
<circle cx="1747.4" cy="1404.4" r="5.2" fill="#000" />
<rect x="1793.6" y="1388.6" width="39.6" height="151.8" fill="#fff" stroke="#000" stroke-width="2" />
<line x1="1813.4" y1="1540.4" x2="1813.4" y2="1552.0" stroke="#000" stroke-width="2" />
<line x1="1813.4" y1="1347.1" x2="1813.4" y2="1425.5" stroke="#000" stroke-width="2" />
<line x1="1801.9" y1="1347.1" x2="1824.9" y2="1347.1" stroke="#000" stroke-width="2" />
<line x1="1801.9" y1="1425.5" x2="1824.9" y2="1425.5" stroke="#000" stroke-width="2" />
<circle cx="1813.4" cy="1359.0" r="5.2" fill="#000" />
<circle cx="1813.4" cy="1414.5" r="5.2" fill="#000" />
<text x="1598.0" y="1576.0" font-size="22.5">WT</text>
<text x="1598.0" y="1603.7" font-size="22.5">Ctrl</text>
<text x="1665.0" y="1576.0" font-size="22.5">WT</text>
<text x="1665.0" y="1603.7" font-size="22.5">LPS</text>
<text x="1733.5" y="1576.0" font-size="22.5" font-style="italic">Nos2</text>
<text x="1783.5" y="1566.5" font-size="12" font-style="italic">-/-</text>
<text x="1733.5" y="1603.7" font-size="22.5">Ctrl</text>
<text x="1799.5" y="1576.0" font-size="22.5" font-style="italic">Nos2</text>
<text x="1849.5" y="1566.5" font-size="12" font-style="italic">-/-</text>
<text x="1799.5" y="1603.7" font-size="22.5">LPS</text>
<text x="0" y="0" font-size="52" font-weight="bold" fill="#231f20" transform="translate(29.5 1673.0) scale(1.035 1)">m</text>
<text x="188.3" y="1701.5" font-size="29">Nitrites</text>
<rect x="95.4" y="1718.5" width="291.6" height="220.9" fill="#f6f5c4"  />
<rect x="95.4" y="1981.0" width="291.6" height="42.7" fill="#dce9d6"  />
<rect x="95.4" y="2026.8" width="291.6" height="17.2" fill="#fae6da"  />
<rect x="95.4" y="2054.5" width="291.6" height="16.3" fill="#dfe5f1"  />
<line x1="92.3" y1="1938.4" x2="320.0" y2="1938.4" stroke="#333" stroke-width="1.6" stroke-dasharray="1.6,3.2"/>
<line x1="92.3" y1="2024.8" x2="320.0" y2="2024.8" stroke="#333" stroke-width="1.6" stroke-dasharray="1.6,3.2"/>
<line x1="92.3" y1="2042.1" x2="320.0" y2="2042.1" stroke="#333" stroke-width="1.6" stroke-dasharray="1.6,3.2"/>
<line x1="91.7" y1="1721.5" x2="91.7" y2="2068.0" stroke="#000" stroke-width="2" />
<line x1="78.7" y1="2068.0" x2="91.7" y2="2068.0" stroke="#000" stroke-width="2" />
<text x="73.2" y="2077.1" font-size="25.5" text-anchor="end">0</text>
<line x1="78.7" y1="2024.8" x2="91.7" y2="2024.8" stroke="#000" stroke-width="2" />
<text x="73.2" y="2033.9" font-size="25.5" text-anchor="end">5</text>
<line x1="78.7" y1="1981.6" x2="91.7" y2="1981.6" stroke="#000" stroke-width="2" />
<text x="73.2" y="1990.7" font-size="25.5" text-anchor="end">10</text>
<line x1="78.7" y1="1938.4" x2="91.7" y2="1938.4" stroke="#000" stroke-width="2" />
<text x="73.2" y="1947.6" font-size="25.5" text-anchor="end">15</text>
<line x1="78.7" y1="1895.2" x2="91.7" y2="1895.2" stroke="#000" stroke-width="2" />
<text x="73.2" y="1904.4" font-size="25.5" text-anchor="end">20</text>
<line x1="78.7" y1="1852.0" x2="91.7" y2="1852.0" stroke="#000" stroke-width="2" />
<text x="73.2" y="1861.2" font-size="25.5" text-anchor="end">25</text>
<line x1="78.7" y1="1808.9" x2="91.7" y2="1808.9" stroke="#000" stroke-width="2" />
<text x="73.2" y="1818.0" font-size="25.5" text-anchor="end">30</text>
<line x1="78.7" y1="1765.7" x2="91.7" y2="1765.7" stroke="#000" stroke-width="2" />
<text x="73.2" y="1774.8" font-size="25.5" text-anchor="end">35</text>
<line x1="78.7" y1="1722.5" x2="91.7" y2="1722.5" stroke="#000" stroke-width="2" />
<text x="73.2" y="1731.6" font-size="25.5" text-anchor="end">40</text>
<text x="21.3" y="1894.5" font-size="27" text-anchor="middle" transform="rotate(-90 21.3 1894.5)">µM</text>
<line x1="120.0" y1="2068.0" x2="120.0" y2="2081.0" stroke="#333" stroke-width="2" />
<rect x="150.9" y="2056.3" width="24.2" height="11.7" fill="none" stroke="#333" stroke-width="2" />
<line x1="163.0" y1="2068.0" x2="163.0" y2="2081.0" stroke="#333" stroke-width="2" />
<rect x="194.7" y="2027.7" width="24.2" height="40.3" fill="none" stroke="#333" stroke-width="2" />
<line x1="206.8" y1="2068.0" x2="206.8" y2="2081.0" stroke="#333" stroke-width="2" />
<rect x="237.7" y="1914.5" width="24.2" height="153.5" fill="none" stroke="#333" stroke-width="2" />
<line x1="249.8" y1="2068.0" x2="249.8" y2="2081.0" stroke="#333" stroke-width="2" />
<rect x="280.8" y="1787.7" width="24.2" height="280.3" fill="none" stroke="#333" stroke-width="2" />
<line x1="292.9" y1="2068.0" x2="292.9" y2="2081.0" stroke="#333" stroke-width="2" />
<circle cx="111.4" cy="2067.1" r="4.9" fill="#35362a" />
<circle cx="129.8" cy="2067.1" r="4.9" fill="#35362a" />
<circle cx="153.8" cy="2056.3" r="4.9" fill="#35362a" />
<circle cx="163.7" cy="2049.8" r="4.9" fill="#35362a" />
<circle cx="172.9" cy="2056.3" r="4.9" fill="#35362a" />
<circle cx="206.8" cy="2009.8" r="4.9" fill="#35362a" />
<circle cx="206.8" cy="2028.6" r="4.9" fill="#35362a" />
<circle cx="206.8" cy="2039.1" r="4.9" fill="#35362a" />
<circle cx="249.8" cy="1884.0" r="4.9" fill="#35362a" />
<circle cx="249.8" cy="1906.8" r="4.9" fill="#35362a" />
<circle cx="249.8" cy="1946.2" r="4.9" fill="#35362a" />
<circle cx="283.7" cy="1778.5" r="4.9" fill="#35362a" />
<circle cx="283.7" cy="1790.8" r="4.9" fill="#35362a" />
<circle cx="302.2" cy="1783.7" r="4.9" fill="#35362a" />
<line x1="163.0" y1="2054.5" x2="163.0" y2="2057.5" stroke="#333" stroke-width="2" />
<line x1="156.0" y1="2054.5" x2="170.0" y2="2054.5" stroke="#333" stroke-width="2" />
<line x1="156.0" y1="2057.5" x2="170.0" y2="2057.5" stroke="#333" stroke-width="2" />
<line x1="206.8" y1="2016.9" x2="206.8" y2="2029.2" stroke="#333" stroke-width="2" />
<line x1="199.8" y1="2016.9" x2="213.8" y2="2016.9" stroke="#333" stroke-width="2" />
<line x1="199.8" y1="2029.2" x2="213.8" y2="2029.2" stroke="#333" stroke-width="2" />
<line x1="249.8" y1="1893.8" x2="249.8" y2="1930.2" stroke="#333" stroke-width="2" />
<line x1="242.8" y1="1893.8" x2="256.8" y2="1893.8" stroke="#333" stroke-width="2" />
<line x1="242.8" y1="1930.2" x2="256.8" y2="1930.2" stroke="#333" stroke-width="2" />
<line x1="292.9" y1="1780.6" x2="292.9" y2="1787.7" stroke="#333" stroke-width="2" />
<line x1="285.9" y1="1780.6" x2="299.9" y2="1780.6" stroke="#333" stroke-width="2" />
<line x1="285.9" y1="1787.7" x2="299.9" y2="1787.7" stroke="#333" stroke-width="2" />
<line x1="111.4" y1="2068.0" x2="129.8" y2="2068.0" stroke="#333" stroke-width="2.5" />
<text x="325.0" y="1833.8" font-size="17.7">BMDM LPS+IFNγ</text>
<text x="330.5" y="2010.8" font-size="17.7">BMDM LPS</text>
<text x="332.0" y="2047.0" font-size="17.7">BMDM IFNγ+TNFα</text>
<text x="330.5" y="2068.6" font-size="17.7">BMDM IFNγ+IL-1β</text>
<text x="130.5" y="2095.0" font-size="24.6" text-anchor="end" transform="rotate(-45 130.5 2095.0)">Ctrl</text>
<text x="172.0" y="2103.6" font-size="24.6" text-anchor="end" transform="rotate(-45 172.0 2103.6)">IL-1β</text>
<text x="217.8" y="2097.0" font-size="24.6" text-anchor="end" transform="rotate(-45 217.8 2097.0)">IL-1β+TNFα</text>
<text x="257.8" y="2098.5" font-size="24.6" text-anchor="end" transform="rotate(-45 257.8 2098.5)">IL-1β+IFNγ</text>
<text x="303.4" y="2097.5" font-size="24.6" text-anchor="end" transform="rotate(-45 303.4 2097.5)">IL-1β+IFNγ+TNFα</text>
<text x="0" y="0" font-size="52" font-weight="bold" fill="#231f20" transform="translate(522.0 1674.8) scale(1.06 1)">n</text>
<line x1="569.8" y1="1723.6" x2="569.8" y2="2029.2" stroke="#000" stroke-width="2" />
<line x1="564.3" y1="2029.2" x2="569.8" y2="2029.2" stroke="#000" stroke-width="2" />
<text x="554.3" y="2037.6" font-size="23.5" text-anchor="end">0</text>
<line x1="564.3" y1="1953.0" x2="569.8" y2="1953.0" stroke="#000" stroke-width="2" />
<text x="554.3" y="1961.5" font-size="23.5" text-anchor="end">100</text>
<line x1="564.3" y1="1876.9" x2="569.8" y2="1876.9" stroke="#000" stroke-width="2" />
<text x="554.3" y="1885.3" font-size="23.5" text-anchor="end">200</text>
<line x1="564.3" y1="1800.7" x2="569.8" y2="1800.7" stroke="#000" stroke-width="2" />
<text x="554.3" y="1809.1" font-size="23.5" text-anchor="end">300</text>
<line x1="564.3" y1="1724.6" x2="569.8" y2="1724.6" stroke="#000" stroke-width="2" />
<text x="554.3" y="1733.0" font-size="23.5" text-anchor="end">400</text>
<line x1="569.8" y1="2029.2" x2="569.8" y2="2035.0" stroke="#000" stroke-width="2" />
<text x="569.8" y="2064.6" font-size="23" text-anchor="middle">0</text>
<line x1="654.4" y1="2029.2" x2="654.4" y2="2035.0" stroke="#000" stroke-width="2" />
<text x="654.4" y="2064.6" font-size="23" text-anchor="middle">20</text>
<line x1="739.0" y1="2029.2" x2="739.0" y2="2035.0" stroke="#000" stroke-width="2" />
<text x="739.0" y="2064.6" font-size="23" text-anchor="middle">40</text>
<text x="579.5" y="2086.0" font-size="23.9">Time (minutes)</text>
<text x="502.3" y="1871.5" font-size="24" text-anchor="middle" transform="rotate(-90 502.3 1871.5)">OCR (%)</text>
<text x="585.5" y="1733.2" font-size="21.5">pyr/mal</text>
<text x="697.0" y="1733.2" font-size="21.5">rot</text>
<line x1="609.8" y1="1740.0" x2="609.8" y2="1782.0" stroke="#000" stroke-width="1.8" />
<polygon points="604.1999999999999,1780 615.4,1780 609.8,1789.5" fill="#000"/>
<line x1="704.0" y1="1740.0" x2="704.0" y2="1782.0" stroke="#000" stroke-width="1.8" />
<polygon points="698.4,1780 709.6,1780 704,1789.5" fill="#000"/>
<polyline points="573.2,1932.3 591.7,1946.8 609.8,1953.8 635.4,1898.5 663.1,1876.9 690.8,1876.9 718.5,1953.2 745.5,1959.4 772.9,1961.5" stroke="#e6393b" stroke-width="2" fill="none" />
<rect x="567.6" y="1926.7" width="11.2" height="11.2" fill="#e6393b"  />
<rect x="586.1" y="1941.2" width="11.2" height="11.2" fill="#e6393b"  />
<rect x="604.2" y="1948.2" width="11.2" height="11.2" fill="#e6393b"  />
<rect x="629.8" y="1892.9" width="11.2" height="11.2" fill="#e6393b"  />
<rect x="657.5" y="1871.3" width="11.2" height="11.2" fill="#e6393b"  />
<rect x="685.2" y="1871.3" width="11.2" height="11.2" fill="#e6393b"  />
<rect x="712.9" y="1947.6" width="11.2" height="11.2" fill="#e6393b"  />
<rect x="739.9" y="1953.8" width="11.2" height="11.2" fill="#e6393b"  />
<rect x="767.3" y="1955.9" width="11.2" height="11.2" fill="#e6393b"  />
<line x1="663.1" y1="1869.9" x2="663.1" y2="1883.9" stroke="#e6393b" stroke-width="2" />
<line x1="657.1" y1="1869.9" x2="669.1" y2="1869.9" stroke="#e6393b" stroke-width="2" />
<line x1="657.1" y1="1883.9" x2="669.1" y2="1883.9" stroke="#e6393b" stroke-width="2" />
<line x1="690.8" y1="1869.9" x2="690.8" y2="1883.9" stroke="#e6393b" stroke-width="2" />
<line x1="684.8" y1="1869.9" x2="696.8" y2="1869.9" stroke="#e6393b" stroke-width="2" />
<line x1="684.8" y1="1883.9" x2="696.8" y2="1883.9" stroke="#e6393b" stroke-width="2" />
<polyline points="573.2,1924.6 591.7,1933.8 609.8,1937.8 635.4,1856.9 663.1,1820.9 690.8,1813.8 718.5,1953.2 745.5,1956.9 772.9,1957.5" stroke="#3c64b1" stroke-width="2" fill="none" />
<circle cx="573.2" cy="1924.6" r="5.8" fill="#3c64b1" />
<circle cx="591.7" cy="1933.8" r="5.8" fill="#3c64b1" />
<circle cx="609.8" cy="1937.8" r="5.8" fill="#3c64b1" />
<circle cx="635.4" cy="1856.9" r="5.8" fill="#3c64b1" />
<circle cx="663.1" cy="1820.9" r="5.8" fill="#3c64b1" />
<circle cx="690.8" cy="1813.8" r="5.8" fill="#3c64b1" />
<circle cx="718.5" cy="1953.2" r="5.8" fill="#3c64b1" />
<circle cx="745.5" cy="1956.9" r="5.8" fill="#3c64b1" />
<circle cx="772.9" cy="1957.5" r="5.8" fill="#3c64b1" />
<line x1="663.1" y1="1812.9" x2="663.1" y2="1826.9" stroke="#3c64b1" stroke-width="2" />
<line x1="657.1" y1="1812.9" x2="669.1" y2="1812.9" stroke="#3c64b1" stroke-width="2" />
<line x1="657.1" y1="1826.9" x2="669.1" y2="1826.9" stroke="#3c64b1" stroke-width="2" />
<line x1="690.8" y1="1806.3" x2="690.8" y2="1820.8" stroke="#3c64b1" stroke-width="2" />
<line x1="684.8" y1="1806.3" x2="696.8" y2="1806.3" stroke="#3c64b1" stroke-width="2" />
<line x1="684.8" y1="1820.8" x2="696.8" y2="1820.8" stroke="#3c64b1" stroke-width="2" />
<line x1="570.8" y1="2117.0" x2="603.0" y2="2117.0" stroke="#3c64b1" stroke-width="2" />
<circle cx="587.0" cy="2117.0" r="5.8" fill="#3c64b1" />
<text x="621.0" y="2124.6" font-size="23">Ctrl</text>
<line x1="575.4" y1="2144.6" x2="607.0" y2="2144.6" stroke="#e6393b" stroke-width="2" />
<rect x="585.2" y="2139.0" width="11.2" height="11.2" fill="#e6393b"  />
<text x="625.5" y="2152.3" font-size="23.5" textLength="199.0" lengthAdjust="spacingAndGlyphs">IL-1β+IFNγ+TNFα</text>
<text x="0" y="0" font-size="52" font-weight="bold" fill="#231f20" transform="translate(805.7 1669.5) scale(1.03 1)">o</text>
<text x="868.8" y="1673.8" font-size="29">DLD diaphorase activity</text>
<text x="842.5" y="1707.7" font-size="23">kDa</text>
<text x="969.8" y="1703.0" font-size="19" text-anchor="middle">C</text>
<line x1="937.0" y1="1705.2" x2="996.3" y2="1705.2" stroke="#000" stroke-width="1.5" />
<text x="1060.0" y="1703.0" font-size="19" text-anchor="middle">mix</text>
<line x1="1029.8" y1="1705.2" x2="1089.2" y2="1705.2" stroke="#000" stroke-width="1.5" />
<clipPath id="geloc"><rect x="893.8" y="1710" width="225.6" height="123.2"/></clipPath>
<linearGradient id="gelol" x1="0" y1="0" x2="0" y2="1"><stop offset="0" stop-color="#3f98d4" stop-opacity="0.8"/><stop offset="0.5" stop-color="#3b8acd" stop-opacity="1"/><stop offset="1" stop-color="#3370bf" stop-opacity="1"/></linearGradient>
<filter id="gelof" x="-10%" y="-10%" width="120%" height="120%"><feGaussianBlur stdDeviation="1.5"/></filter>
<g clip-path="url(#geloc)">
<linearGradient id="gelob" x1="0" y1="0" x2="1" y2="0"><stop offset="0" stop-color="#4aa6dc"/><stop offset="0.5" stop-color="#45a2da"/><stop offset="1" stop-color="#4db2e2"/></linearGradient>
<rect x="893.8" y="1710" width="225.6" height="123.2" fill="url(#gelob)"/>
<rect x="918.5" y="1706" width="42.5" height="131.2" fill="url(#gelol)" filter="url(#gelof)"/>
<rect x="965" y="1706" width="44" height="131.2" fill="url(#gelol)" filter="url(#gelof)"/>
<rect x="1012" y="1706" width="43" height="131.2" fill="url(#gelol)" filter="url(#gelof)"/>
<rect x="1057.5" y="1706" width="39.5" height="131.2" fill="url(#gelol)" filter="url(#gelof)"/>
<rect x="920" y="1782.0" width="40" height="14" rx="7.0" fill="#2f5fae" opacity="0.45" filter="url(#b4)"/>
<rect x="967" y="1783.0" width="41" height="14" rx="7.0" fill="#2f5fae" opacity="0.5" filter="url(#b4)"/>
<rect x="1014" y="1785.0" width="40" height="12" rx="6.0" fill="#2f5fae" opacity="0.25" filter="url(#b4)"/>
<rect x="1059" y="1785.0" width="37" height="12" rx="6.0" fill="#2f5fae" opacity="0.25" filter="url(#b4)"/>
</g>
<rect x="893.8" y="1710" width="225.6" height="123.2" fill="none" stroke="#333" stroke-width="1.5"/>
<ellipse cx="902" cy="1740" rx="7" ry="5" fill="#7a6aa8" opacity="0.35" filter="url(#b2)"/>
<text x="866.0" y="1749.8" font-size="23.5" text-anchor="end">242</text>
<line x1="869.8" y1="1741.5" x2="893.8" y2="1741.5" stroke="#000" stroke-width="2" />
<text x="866.0" y="1810.5" font-size="23.5" text-anchor="end">146</text>
<line x1="869.8" y1="1802.2" x2="893.8" y2="1802.2" stroke="#000" stroke-width="2" />
<text x="831.8" y="1869.2" font-size="29">DLD dehydrogenase activity</text>
<line x1="924.0" y1="1882.7" x2="924.0" y2="2134.5" stroke="#000" stroke-width="2" />
<line x1="914.5" y1="2134.5" x2="924.0" y2="2134.5" stroke="#000" stroke-width="2" />
<text x="909.5" y="2140.8" font-size="17.5" text-anchor="end">3</text>
<line x1="914.5" y1="2071.8" x2="924.0" y2="2071.8" stroke="#000" stroke-width="2" />
<text x="909.5" y="2078.1" font-size="17.5" text-anchor="end">4</text>
<line x1="914.5" y1="2009.1" x2="924.0" y2="2009.1" stroke="#000" stroke-width="2" />
<text x="909.5" y="2015.4" font-size="17.5" text-anchor="end">5</text>
<line x1="914.5" y1="1946.4" x2="924.0" y2="1946.4" stroke="#000" stroke-width="2" />
<text x="909.5" y="1952.7" font-size="17.5" text-anchor="end">6</text>
<line x1="914.5" y1="1883.7" x2="924.0" y2="1883.7" stroke="#000" stroke-width="2" />
<text x="909.5" y="1890.0" font-size="17.5" text-anchor="end">7</text>
<text x="886.5" y="2005.4" font-size="22.5" text-anchor="middle" transform="rotate(-90 886.5 2005.4)">pmoles/min/µg prot</text>
<rect x="950.0" y="2029.2" width="44.5" height="105.3" fill="#d1d1d5" stroke="#000" stroke-width="2" />
<line x1="972.3" y1="2134.5" x2="972.3" y2="2146.0" stroke="#000" stroke-width="2" />
<rect x="1021.5" y="2089.8" width="44.5" height="44.7" fill="#d1d1d5" stroke="#000" stroke-width="2" />
<line x1="1043.7" y1="2134.5" x2="1043.7" y2="2146.0" stroke="#000" stroke-width="2" />
<line x1="972.3" y1="2011.4" x2="972.3" y2="2044.0" stroke="#000" stroke-width="2" />
<line x1="963.3" y1="2011.4" x2="981.3" y2="2011.4" stroke="#000" stroke-width="2" />
<line x1="963.3" y1="2044.0" x2="981.3" y2="2044.0" stroke="#000" stroke-width="2" />
<line x1="1043.7" y1="2076.3" x2="1043.7" y2="2099.4" stroke="#000" stroke-width="2" />
<line x1="1034.7" y1="2076.3" x2="1052.7" y2="2076.3" stroke="#000" stroke-width="2" />
<line x1="1034.7" y1="2099.4" x2="1052.7" y2="2099.4" stroke="#000" stroke-width="2" />
<circle cx="972.3" cy="1986.2" r="4.0" fill="#000" />
<circle cx="964.6" cy="2027.7" r="4.0" fill="#000" />
<circle cx="980.0" cy="2029.2" r="4.0" fill="#000" />
<circle cx="972.3" cy="2066.8" r="4.0" fill="#000" />
<circle cx="1043.7" cy="2068.6" r="4.0" fill="#000" />
<circle cx="1043.7" cy="2086.8" r="4.0" fill="#000" />
<circle cx="1043.7" cy="2109.2" r="4.0" fill="#000" />
<text x="964.0" y="1921.0" font-size="19.5">p=0.0296</text>
<line x1="964.6" y1="1926.8" x2="1045.2" y2="1926.8" stroke="#000" stroke-width="1.8" />
<text x="978.3" y="2158.0" font-size="23" text-anchor="end" transform="rotate(-45 978.3 2158.0)">Ctrl</text>
<text x="989.0" y="2173.0" font-size="22.6">IL-1β+IFNγ+TNFα</text>
<text x="0" y="0" font-size="52" font-weight="bold" fill="#231f20" transform="translate(1217.5 1674.0) scale(1.01 0.98)">p</text>
<text x="1306.8" y="1744.6" font-size="29">pyruvate OCR</text>
<line x1="1289.2" y1="1804.4" x2="1289.2" y2="2093.2" stroke="#000" stroke-width="2" />
<line x1="1277.7" y1="2093.2" x2="1289.2" y2="2093.2" stroke="#000" stroke-width="2" />
<text x="1271.7" y="2100.9" font-size="21.5" text-anchor="end">0</text>
<line x1="1277.7" y1="2021.3" x2="1289.2" y2="2021.3" stroke="#000" stroke-width="2" />
<text x="1271.7" y="2029.0" font-size="21.5" text-anchor="end">5</text>
<line x1="1277.7" y1="1949.3" x2="1289.2" y2="1949.3" stroke="#000" stroke-width="2" />
<text x="1271.7" y="1957.0" font-size="21.5" text-anchor="end">10</text>
<line x1="1277.7" y1="1877.4" x2="1289.2" y2="1877.4" stroke="#000" stroke-width="2" />
<text x="1271.7" y="1885.1" font-size="21.5" text-anchor="end">15</text>
<line x1="1277.7" y1="1805.4" x2="1289.2" y2="1805.4" stroke="#000" stroke-width="2" />
<text x="1271.7" y="1813.1" font-size="21.5" text-anchor="end">20</text>
<text x="1238.0" y="1954.0" font-size="22.5" text-anchor="middle" transform="rotate(-90 1238.0 1954.0)">OCR (pmol/min)</text>
<rect x="1306.5" y="1941.5" width="27.0" height="151.7" fill="#fff" stroke="#000" stroke-width="2" />
<line x1="1320.0" y1="2093.2" x2="1320.0" y2="2105.0" stroke="#000" stroke-width="2" />
<rect x="1352.7" y="2026.2" width="27.0" height="67.0" fill="#fff" stroke="#000" stroke-width="2" />
<line x1="1366.2" y1="2093.2" x2="1366.2" y2="2105.0" stroke="#000" stroke-width="2" />
<rect x="1399.7" y="1947.7" width="27.0" height="145.5" fill="#fff" stroke="#000" stroke-width="2" />
<line x1="1413.2" y1="2093.2" x2="1413.2" y2="2105.0" stroke="#000" stroke-width="2" />
<rect x="1446.5" y="1996.0" width="27.0" height="97.2" fill="#e6e6e6" stroke="#c8c8c8" stroke-width="2" />
<line x1="1460.0" y1="2093.2" x2="1460.0" y2="2105.0" stroke="#000" stroke-width="2" />
<circle cx="1320.0" cy="1853.8" r="4.6" fill="#000" />
<circle cx="1315.4" cy="1890.8" r="4.6" fill="#000" />
<circle cx="1323.7" cy="1895.4" r="4.6" fill="#000" />
<circle cx="1315.4" cy="1906.2" r="4.6" fill="#000" />
<circle cx="1323.7" cy="1910.8" r="4.6" fill="#000" />
<circle cx="1323.7" cy="1926.2" r="4.6" fill="#000" />
<circle cx="1315.4" cy="1933.2" r="4.6" fill="#000" />
<circle cx="1320.0" cy="1936.9" r="4.6" fill="#000" />
<circle cx="1312.3" cy="1946.2" r="4.6" fill="#000" />
<circle cx="1330.8" cy="1953.8" r="4.6" fill="#000" />
<circle cx="1308.6" cy="1956.0" r="4.6" fill="#000" />
<circle cx="1320.0" cy="1960.0" r="4.6" fill="#000" />
<circle cx="1315.4" cy="1967.1" r="4.6" fill="#000" />
<circle cx="1323.7" cy="1967.7" r="4.6" fill="#000" />
<circle cx="1315.4" cy="1975.4" r="4.6" fill="#000" />
<circle cx="1323.7" cy="1976.9" r="4.6" fill="#000" />
<circle cx="1315.4" cy="1991.7" r="4.6" fill="#000" />
<circle cx="1323.7" cy="1990.8" r="4.6" fill="#000" />
<circle cx="1355.4" cy="1971.4" r="4.6" fill="#000" />
<circle cx="1377.8" cy="1968.3" r="4.6" fill="#000" />
<circle cx="1363.1" cy="1978.5" r="4.6" fill="#000" />
<circle cx="1370.8" cy="1979.4" r="4.6" fill="#000" />
<circle cx="1363.1" cy="1992.3" r="4.6" fill="#000" />
<circle cx="1370.8" cy="1990.8" r="4.6" fill="#000" />
<circle cx="1363.1" cy="2005.5" r="4.6" fill="#000" />
<circle cx="1370.8" cy="2005.5" r="4.6" fill="#000" />
<circle cx="1355.4" cy="2020.9" r="4.6" fill="#000" />
<circle cx="1363.1" cy="2020.9" r="4.6" fill="#000" />
<circle cx="1377.8" cy="2020.9" r="4.6" fill="#000" />
<circle cx="1363.1" cy="2033.8" r="4.6" fill="#000" />
<circle cx="1355.4" cy="2041.5" r="4.6" fill="#000" />
<circle cx="1377.8" cy="2040.9" r="4.6" fill="#000" />
<circle cx="1355.4" cy="2047.7" r="4.6" fill="#000" />
<circle cx="1370.8" cy="2047.7" r="4.6" fill="#000" />
<circle cx="1363.1" cy="2060.0" r="4.6" fill="#000" />
<circle cx="1370.8" cy="2067.7" r="4.6" fill="#000" />
<circle cx="1366.2" cy="2086.2" r="4.6" fill="#000" />
<circle cx="1370.8" cy="2026.2" r="4.6" fill="#000" />
<circle cx="1358.5" cy="2056.9" r="4.6" fill="#000" />
<circle cx="1413.2" cy="1892.3" r="4.6" fill="#000" />
<circle cx="1424.6" cy="1889.5" r="4.6" fill="#000" />
<circle cx="1402.2" cy="1904.6" r="4.6" fill="#000" />
<circle cx="1413.2" cy="1913.8" r="4.6" fill="#000" />
<circle cx="1424.6" cy="1909.8" r="4.6" fill="#000" />
<circle cx="1402.2" cy="1916.0" r="4.6" fill="#000" />
<circle cx="1413.2" cy="1931.4" r="4.6" fill="#000" />
<circle cx="1407.7" cy="1943.1" r="4.6" fill="#000" />
<circle cx="1418.5" cy="1943.1" r="4.6" fill="#000" />
<circle cx="1413.2" cy="1958.5" r="4.6" fill="#000" />
<circle cx="1401.5" cy="1956.9" r="4.6" fill="#000" />
<circle cx="1424.6" cy="1958.5" r="4.6" fill="#000" />
<circle cx="1413.2" cy="1982.5" r="4.6" fill="#000" />
<circle cx="1402.2" cy="2006.2" r="4.6" fill="#000" />
<circle cx="1418.5" cy="2006.2" r="4.6" fill="#000" />
<circle cx="1413.2" cy="2021.5" r="4.6" fill="#000" />
<circle cx="1449.2" cy="1959.4" r="4.6" fill="#000" />
<circle cx="1464.6" cy="1956.3" r="4.6" fill="#000" />
<circle cx="1470.8" cy="1967.1" r="4.6" fill="#000" />
<circle cx="1449.2" cy="1973.8" r="4.6" fill="#000" />
<circle cx="1460.0" cy="1972.3" r="4.6" fill="#000" />
<circle cx="1449.2" cy="1984.6" r="4.6" fill="#000" />
<circle cx="1460.0" cy="1992.3" r="4.6" fill="#000" />
<circle cx="1470.8" cy="1986.2" r="4.6" fill="#000" />
<circle cx="1453.8" cy="1994.8" r="4.6" fill="#000" />
<circle cx="1464.6" cy="2003.1" r="4.6" fill="#000" />
<circle cx="1453.8" cy="2010.8" r="4.6" fill="#000" />
<circle cx="1464.6" cy="2020.0" r="4.6" fill="#000" />
<circle cx="1460.0" cy="2027.7" r="4.6" fill="#000" />
<circle cx="1453.8" cy="2035.4" r="4.6" fill="#000" />
<circle cx="1464.6" cy="2035.4" r="4.6" fill="#000" />
<circle cx="1460.0" cy="2045.2" r="4.6" fill="#000" />
<line x1="1320.0" y1="1934.5" x2="1320.0" y2="1946.8" stroke="#000" stroke-width="2" />
<line x1="1311.0" y1="1934.5" x2="1329.0" y2="1934.5" stroke="#000" stroke-width="2" />
<line x1="1311.0" y1="1946.8" x2="1329.0" y2="1946.8" stroke="#000" stroke-width="2" />
<line x1="1366.2" y1="2017.5" x2="1366.2" y2="2032.3" stroke="#000" stroke-width="2" />
<line x1="1357.2" y1="2017.5" x2="1375.2" y2="2017.5" stroke="#000" stroke-width="2" />
<line x1="1357.2" y1="2032.3" x2="1375.2" y2="2032.3" stroke="#000" stroke-width="2" />
<line x1="1413.2" y1="1934.5" x2="1413.2" y2="1956.9" stroke="#000" stroke-width="2" />
<line x1="1404.2" y1="1934.5" x2="1422.2" y2="1934.5" stroke="#000" stroke-width="2" />
<line x1="1404.2" y1="1956.9" x2="1422.2" y2="1956.9" stroke="#000" stroke-width="2" />
<line x1="1460.0" y1="1965.2" x2="1460.0" y2="2023.7" stroke="#000" stroke-width="2" />
<line x1="1451.0" y1="1965.2" x2="1469.0" y2="1965.2" stroke="#000" stroke-width="2" />
<line x1="1451.0" y1="2023.7" x2="1469.0" y2="2023.7" stroke="#000" stroke-width="2" />
<polyline points="1320.0,1804.6 1320.0,1788.6 1460.0,1788.6 1460.0,1945.5" stroke="#000" stroke-width="1.8" fill="none" />
<text x="1350.3" y="1783.0" font-size="19.5">p=0.0002</text>
<polyline points="1320.0,1846.0 1320.0,1829.2 1366.2,1829.2 1366.2,1952.3" stroke="#000" stroke-width="1.8" fill="none" />
<text x="1319.5" y="1824.6" font-size="19.5">p&lt;0.0001</text>
<text x="1329.0" y="2129.5" font-size="23.5" text-anchor="end" transform="rotate(-45 1329.0 2129.5)">Ctrl</text>
<text x="1394.0" y="2108.4" font-size="23.5" text-anchor="end" transform="rotate(-45 1394.0 2108.4)">IL-1β+IFNγ+TNFα</text>
<text x="1435.2" y="2118.8" font-size="23.5" text-anchor="end" transform="rotate(-45 1435.2 2118.8)">DETA/NO 100</text>
<text x="1478.0" y="2120.3" font-size="23.5" text-anchor="end" transform="rotate(-45 1478.0 2120.3)">DETA/NO 500</text>
<text x="0" y="0" font-size="52" font-weight="bold" fill="#231f20" transform="translate(1511.3 1674.0) scale(1.03 0.98)">q</text>
<text x="1621.3" y="1744.6" font-size="29">GSH sulfinamide</text>
<line x1="1601.5" y1="1787.2" x2="1601.5" y2="2080.0" stroke="#000" stroke-width="2" />
<line x1="1590.0" y1="2080.0" x2="1601.5" y2="2080.0" stroke="#000" stroke-width="2" />
<text x="1584.0" y="2087.5" font-size="21" text-anchor="end" font-weight="bold">0</text>
<line x1="1590.0" y1="2021.6" x2="1601.5" y2="2021.6" stroke="#000" stroke-width="2" />
<text x="1584.0" y="2029.1" font-size="21" text-anchor="end" font-weight="bold">50</text>
<line x1="1590.0" y1="1963.3" x2="1601.5" y2="1963.3" stroke="#000" stroke-width="2" />
<text x="1584.0" y="1970.8" font-size="21" text-anchor="end" font-weight="bold">100</text>
<line x1="1590.0" y1="1904.9" x2="1601.5" y2="1904.9" stroke="#000" stroke-width="2" />
<text x="1584.0" y="1912.4" font-size="21" text-anchor="end" font-weight="bold">150</text>
<line x1="1590.0" y1="1846.5" x2="1601.5" y2="1846.5" stroke="#000" stroke-width="2" />
<text x="1584.0" y="1854.0" font-size="21" text-anchor="end" font-weight="bold">200</text>
<line x1="1590.0" y1="1788.2" x2="1601.5" y2="1788.2" stroke="#000" stroke-width="2" />
<text x="1584.0" y="1795.7" font-size="21" text-anchor="end" font-weight="bold">250</text>
<text x="1537.4" y="1949.3" font-size="22.5" text-anchor="middle" transform="rotate(-90 1537.4 1949.3)">Normalized abundance</text>
<rect x="1616.5" y="2052.3" width="19.5" height="27.7" fill="#ffffff" stroke="#000" stroke-width="2" />
<line x1="1626.2" y1="2080.0" x2="1626.2" y2="2092.0" stroke="#000" stroke-width="2" />
<rect x="1651.5" y="1989.2" width="19.5" height="90.8" fill="#8b98c9" stroke="#000" stroke-width="2" />
<line x1="1661.2" y1="2080.0" x2="1661.2" y2="2092.0" stroke="#000" stroke-width="2" />
<rect x="1687.2" y="2044.6" width="19.5" height="35.4" fill="#b9bde1" stroke="#000" stroke-width="2" />
<line x1="1697.0" y1="2080.0" x2="1697.0" y2="2092.0" stroke="#000" stroke-width="2" />
<rect x="1723.2" y="2007.0" width="19.5" height="73.0" fill="#4160aa" stroke="#4160aa" stroke-width="2" />
<line x1="1733.0" y1="2080.0" x2="1733.0" y2="2092.0" stroke="#000" stroke-width="2" />
<rect x="1758.5" y="1983.7" width="19.5" height="96.3" fill="#f49b88" stroke="#b8b8b8" stroke-width="2" />
<line x1="1768.3" y1="2080.0" x2="1768.3" y2="2092.0" stroke="#000" stroke-width="2" />
<rect x="1794.0" y="1893.2" width="19.5" height="186.8" fill="#e3e8b2" stroke="#9a9a9a" stroke-width="2" />
<line x1="1803.7" y1="2080.0" x2="1803.7" y2="2092.0" stroke="#000" stroke-width="2" />
<rect x="1830.2" y="2042.0" width="19.5" height="38.0" fill="#84c4ab" stroke="#cfe6dc" stroke-width="2" />
<line x1="1840.0" y1="2080.0" x2="1840.0" y2="2092.0" stroke="#000" stroke-width="2" />
<line x1="1661.2" y1="1983.1" x2="1661.2" y2="1989.2" stroke="#000" stroke-width="2" />
<line x1="1655.2" y1="1983.1" x2="1667.2" y2="1983.1" stroke="#000" stroke-width="2" />
<line x1="1655.2" y1="1989.2" x2="1667.2" y2="1989.2" stroke="#000" stroke-width="2" />
<line x1="1733.0" y1="1994.8" x2="1733.0" y2="2007.7" stroke="#000" stroke-width="2" />
<line x1="1727.0" y1="1994.8" x2="1739.0" y2="1994.8" stroke="#000" stroke-width="2" />
<line x1="1727.0" y1="2007.7" x2="1739.0" y2="2007.7" stroke="#000" stroke-width="2" />
<line x1="1768.3" y1="1966.2" x2="1768.3" y2="1996.9" stroke="#000" stroke-width="2" />
<line x1="1762.3" y1="1966.2" x2="1774.3" y2="1966.2" stroke="#000" stroke-width="2" />
<line x1="1762.3" y1="1996.9" x2="1774.3" y2="1996.9" stroke="#000" stroke-width="2" />
<line x1="1803.7" y1="1866.2" x2="1803.7" y2="1916.0" stroke="#000" stroke-width="2" />
<line x1="1797.7" y1="1866.2" x2="1809.7" y2="1866.2" stroke="#000" stroke-width="2" />
<line x1="1797.7" y1="1916.0" x2="1809.7" y2="1916.0" stroke="#000" stroke-width="2" />
<line x1="1840.0" y1="2036.9" x2="1840.0" y2="2042.2" stroke="#000" stroke-width="2" />
<line x1="1834.0" y1="2036.9" x2="1846.0" y2="2036.9" stroke="#000" stroke-width="2" />
<line x1="1834.0" y1="2042.2" x2="1846.0" y2="2042.2" stroke="#000" stroke-width="2" />
<circle cx="1620.6" cy="2046.2" r="5.3" fill="#000" />
<circle cx="1620.6" cy="2057.8" r="5.3" fill="#000" />
<circle cx="1632.3" cy="2048.6" r="5.3" fill="#000" />
<circle cx="1656.3" cy="1978.5" r="5.3" fill="#000" />
<circle cx="1656.3" cy="1996.3" r="5.3" fill="#000" />
<circle cx="1667.7" cy="1988.3" r="5.3" fill="#000" />
<circle cx="1691.4" cy="2042.2" r="5.3" fill="#000" />
<circle cx="1697.5" cy="2039.1" r="5.3" fill="#000" />
<circle cx="1703.1" cy="2040.0" r="5.3" fill="#000" />
<circle cx="1732.9" cy="1983.7" r="5.3" fill="#000" />
<circle cx="1727.1" cy="2016.9" r="5.3" fill="#000" />
<circle cx="1738.5" cy="2014.5" r="5.3" fill="#000" />
<circle cx="1768.3" cy="1956.3" r="5.3" fill="#000" />
<circle cx="1768.3" cy="1978.5" r="5.3" fill="#000" />
<circle cx="1768.3" cy="2010.2" r="5.3" fill="#000" />
<circle cx="1803.7" cy="1852.3" r="5.3" fill="#000" />
<circle cx="1803.7" cy="1885.2" r="5.3" fill="#000" />
<circle cx="1803.7" cy="1937.5" r="5.3" fill="#000" />
<circle cx="1833.8" cy="2032.3" r="5.3" fill="#000" />
<circle cx="1846.2" cy="2033.8" r="5.3" fill="#000" />
<circle cx="1840.0" cy="2050.8" r="5.3" fill="#000" />
<text x="1657.0" y="1817.0" font-size="19.5">p&lt;0.0001</text>
<line x1="1618.5" y1="1823.0" x2="1804.0" y2="1823.0" stroke="#000" stroke-width="1.8" />
<text x="1653.5" y="1867.7" font-size="19.5">p=0.0088</text>
<line x1="1617.5" y1="1871.7" x2="1763.0" y2="1871.7" stroke="#000" stroke-width="1.8" />
<text x="1653.5" y="1910.8" font-size="19.5">p=0.0001</text>
<line x1="1656.3" y1="1917.8" x2="1693.2" y2="1917.8" stroke="#000" stroke-width="1.8" />
<text x="1605.5" y="1946.0" font-size="19.5">p&lt;0.0001</text>
<line x1="1611.4" y1="1951.4" x2="1650.2" y2="1951.4" stroke="#000" stroke-width="1.8" />
<text x="1635.2" y="2106.5" font-size="22.5" text-anchor="end" transform="rotate(-45 1635.2 2106.5)">Ctrl</text>
<text x="1674.2" y="2105.0" font-size="22.5" text-anchor="end" transform="rotate(-45 1674.2 2105.0)">IL-1β+IFNγ+TNFα</text>
<text x="1706.0" y="2107.0" font-size="22.5" text-anchor="end" transform="rotate(-45 1706.0 2107.0)">AG / mix</text>
<text x="1743.0" y="2105.0" font-size="22.5" text-anchor="end" transform="rotate(-45 1743.0 2105.0)">mix+BSO</text>
<text x="1774.8" y="2112.0" font-size="22.5" text-anchor="end" transform="rotate(-45 1774.8 2112.0)">AS</text>
<text x="1814.7" y="2105.0" font-size="22.5" text-anchor="end" transform="rotate(-45 1814.7 2105.0)">DEA/NO</text>
<text x="1848.5" y="2103.5" font-size="22.5" text-anchor="end" transform="rotate(-45 1848.5 2103.5)">Nitrite</text>
<line x1="190.6" y1="403.0" x2="427.7" y2="403.0" stroke="#000" stroke-width="2"/>
<line x1="588.0" y1="424.4" x2="883.5" y2="424.4" stroke="#000" stroke-width="2"/>
<line x1="986.3" y1="428.2" x2="1182.7" y2="428.2" stroke="#000" stroke-width="2"/>
<line x1="1315.0" y1="431.5" x2="1521.8" y2="431.5" stroke="#000" stroke-width="2"/>
<line x1="1619.7" y1="430.7" x2="1827.0" y2="430.7" stroke="#000" stroke-width="2"/>
<line x1="926.2" y1="994.4" x2="1217.3" y2="994.4" stroke="#000" stroke-width="2"/>
<line x1="1316.2" y1="1003.4" x2="1573.6" y2="1003.4" stroke="#000" stroke-width="2"/>
<line x1="1689.6" y1="1000.7" x2="1961.3" y2="1000.7" stroke="#000" stroke-width="2"/>
<line x1="98.2" y1="1563.4" x2="332.1" y2="1563.4" stroke="#000" stroke-width="2"/>
<line x1="548.2" y1="1567.4" x2="809.1" y2="1567.4" stroke="#000" stroke-width="2"/>
<line x1="1562.6" y1="1540.4" x2="1857.0" y2="1540.4" stroke="#000" stroke-width="2"/>
<line x1="78.5" y1="2068.0" x2="321.5" y2="2068.0" stroke="#000" stroke-width="2"/>
<line x1="569.8" y1="2029.2" x2="773.2" y2="2029.2" stroke="#000" stroke-width="2"/>
<line x1="914.5" y1="2134.5" x2="1091.7" y2="2134.5" stroke="#000" stroke-width="2"/>
<line x1="1277.8" y1="2093.2" x2="1490.8" y2="2093.2" stroke="#000" stroke-width="2"/>
<line x1="1589.8" y1="2080.0" x2="1863.0" y2="2080.0" stroke="#000" stroke-width="2"/>
</svg>
</body></html>
